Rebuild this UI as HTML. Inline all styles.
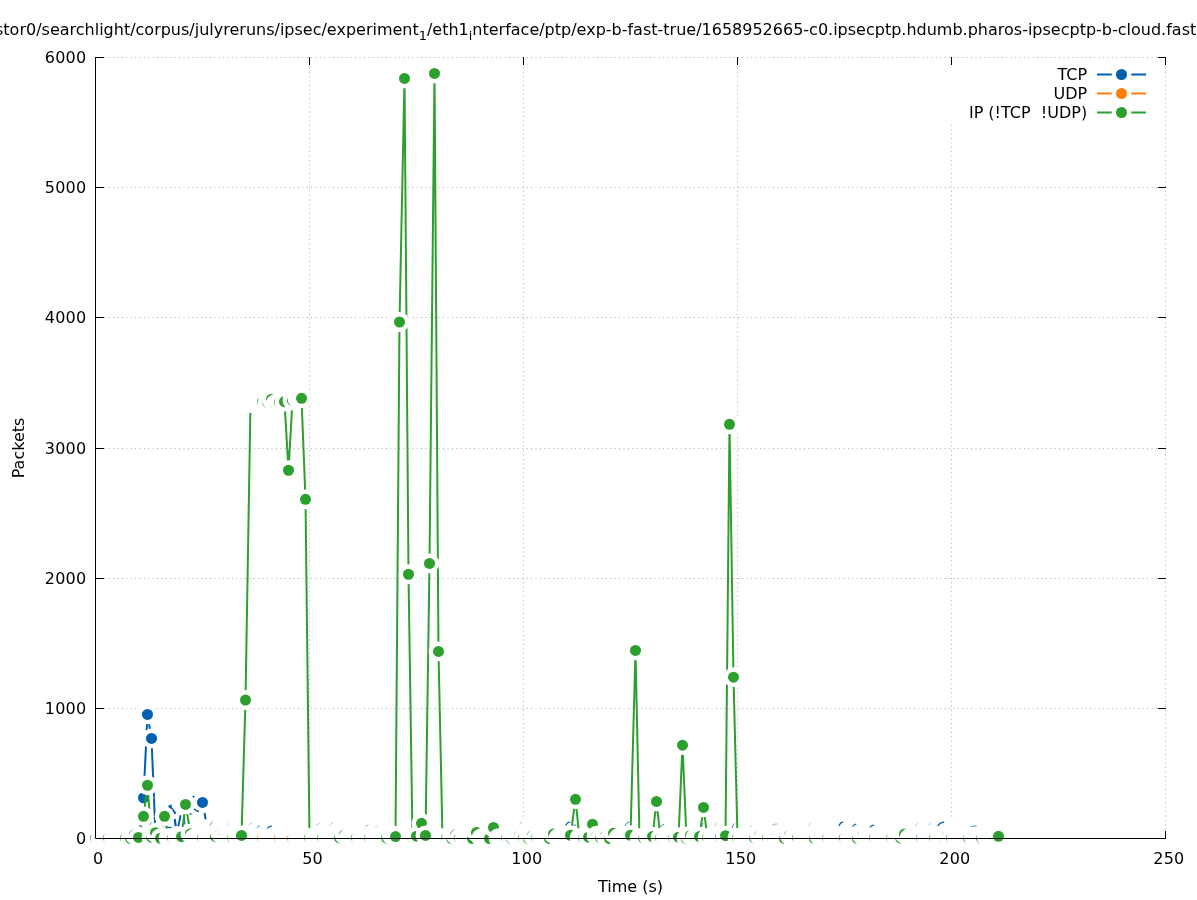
<!DOCTYPE html>
<html><head><meta charset="utf-8"><title>Packets over time</title>
<style>
html,body{margin:0;padding:0;background:#fff;}
body{width:1197px;height:900px;overflow:hidden;}
svg{display:block;}
text{font-family:"DejaVu Sans","Liberation Sans",sans-serif;font-size:16px;fill:#000;}
.sub{font-size:12.8px;}
.tk{letter-spacing:0.2px;}
.grid{stroke:#acacac;stroke-width:1;stroke-dasharray:1 3.4;fill:none;}
.ax{stroke:#000;stroke-width:1;fill:none;}
</style></head><body>
<svg width="1197" height="900" viewBox="0 0 1197 900">
<rect x="0" y="0" width="1197" height="900" fill="#ffffff"/>

<g class="grid">
<path d="M309.5 838.5 V57.5"/>
<path d="M523.5 838.5 V57.5"/>
<path d="M737.5 838.5 V57.5"/>
<path d="M951.5 838.5 V57.5"/>
<path d="M1165.5 838.5 V57.5"/>
<path d="M95.5 708.5 H1165.5"/>
<path d="M95.5 578.5 H1165.5"/>
<path d="M95.5 448.5 H1165.5"/>
<path d="M95.5 317.5 H1165.5"/>
<path d="M95.5 187.5 H1165.5"/>
<path d="M95.5 57.5 H1165.5"/>
</g>
<g class="ax">
<path d="M95.5 839V831M95.5 57V65"/>
<path d="M309.5 839V831M309.5 57V65"/>
<path d="M523.5 839V831M523.5 57V65"/>
<path d="M737.5 839V831M737.5 57V65"/>
<path d="M951.5 839V831M951.5 57V65"/>
<path d="M1165.5 839V831M1165.5 57V65"/>
<path d="M95 838.5H104M1166 838.5H1158"/>
<path d="M95 708.5H104M1166 708.5H1158"/>
<path d="M95 578.5H104M1166 578.5H1158"/>
<path d="M95 448.5H104M1166 448.5H1158"/>
<path d="M95 317.5H104M1166 317.5H1158"/>
<path d="M95 187.5H104M1166 187.5H1158"/>
<path d="M95 57.5H104M1166 57.5H1158"/>
</g>
<rect x="945" y="65" width="218" height="59.5" fill="#fff"/>
<g id="tcp">
<path d="M138.5 835.9L143.5 797.76L147.5 714.45L151.5 738.4L155.5 835.25" fill="none" stroke="#0060ad" stroke-width="2" stroke-linejoin="round"/>
<path d="M198.5 805.31L202.5 802.44L207.5 829" fill="none" stroke="#0060ad" stroke-width="2" stroke-linejoin="round"/>
<circle cx="138.5" cy="835.9" r="9.9" fill="#fff"/><circle cx="138.5" cy="835.9" r="5.5" fill="#0060ad"/>
<circle cx="143.5" cy="797.76" r="9.9" fill="#fff"/><circle cx="143.5" cy="797.76" r="5.5" fill="#0060ad"/>
<circle cx="147.5" cy="714.45" r="9.9" fill="#fff"/><circle cx="147.5" cy="714.45" r="5.5" fill="#0060ad"/>
<circle cx="151.5" cy="738.4" r="9.9" fill="#fff"/><circle cx="151.5" cy="738.4" r="5.5" fill="#0060ad"/>
<circle cx="155.5" cy="835.25" r="9.9" fill="#fff"/><circle cx="155.5" cy="835.25" r="5.5" fill="#0060ad"/>
<circle cx="198.5" cy="805.31" r="9.9" fill="#fff"/><circle cx="198.5" cy="805.31" r="5.5" fill="#0060ad"/>
<circle cx="202.5" cy="802.44" r="9.9" fill="#fff"/><circle cx="202.5" cy="802.44" r="5.5" fill="#0060ad"/>
<circle cx="207.5" cy="829.0" r="9.9" fill="#fff"/><circle cx="211.5" cy="829.5" r="9.9" fill="#fff"/><circle cx="215.5" cy="829.5" r="9.9" fill="#fff"/><circle cx="220.5" cy="829.5" r="9.9" fill="#fff"/><circle cx="224.5" cy="829.5" r="9.9" fill="#fff"/><circle cx="228.5" cy="829.5" r="9.9" fill="#fff"/><circle cx="232.5" cy="829.5" r="9.9" fill="#fff"/><circle cx="237.5" cy="829.5" r="9.9" fill="#fff"/><circle cx="241.5" cy="829.5" r="9.9" fill="#fff"/><circle cx="245.5" cy="829.5" r="9.9" fill="#fff"/><circle cx="250.5" cy="829.5" r="9.9" fill="#fff"/><circle cx="254.5" cy="829.5" r="9.9" fill="#fff"/><circle cx="258.5" cy="829.5" r="9.9" fill="#fff"/><circle cx="262.5" cy="829.5" r="9.9" fill="#fff"/><circle cx="267.5" cy="829.5" r="9.9" fill="#fff"/><circle cx="271.5" cy="829.5" r="9.9" fill="#fff"/><circle cx="275.5" cy="829.5" r="9.9" fill="#fff"/><circle cx="279.5" cy="829.5" r="9.9" fill="#fff"/><circle cx="284.5" cy="829.5" r="9.9" fill="#fff"/><circle cx="288.5" cy="829.5" r="9.9" fill="#fff"/><circle cx="292.5" cy="829.5" r="9.9" fill="#fff"/><circle cx="297.5" cy="829.5" r="9.9" fill="#fff"/><circle cx="301.5" cy="829.5" r="9.9" fill="#fff"/><circle cx="305.5" cy="829.5" r="9.9" fill="#fff"/><circle cx="309.5" cy="829.5" r="9.9" fill="#fff"/><circle cx="314.5" cy="829.5" r="9.9" fill="#fff"/><circle cx="318.5" cy="829.5" r="9.9" fill="#fff"/><circle cx="322.5" cy="829.5" r="9.9" fill="#fff"/><circle cx="327.5" cy="829.5" r="9.9" fill="#fff"/><circle cx="331.5" cy="829.5" r="9.9" fill="#fff"/><circle cx="335.5" cy="829.5" r="9.9" fill="#fff"/><circle cx="339.5" cy="829.5" r="9.9" fill="#fff"/><circle cx="344.5" cy="829.5" r="9.9" fill="#fff"/><circle cx="348.5" cy="829.5" r="9.9" fill="#fff"/><circle cx="352.5" cy="829.5" r="9.9" fill="#fff"/><circle cx="356.5" cy="829.5" r="9.9" fill="#fff"/><circle cx="361.5" cy="829.5" r="9.9" fill="#fff"/><circle cx="365.5" cy="829.5" r="9.9" fill="#fff"/><circle cx="369.5" cy="829.5" r="9.9" fill="#fff"/><circle cx="374.5" cy="829.5" r="9.9" fill="#fff"/><circle cx="378.5" cy="829.5" r="9.9" fill="#fff"/><circle cx="382.5" cy="829.5" r="9.9" fill="#fff"/><circle cx="386.5" cy="829.5" r="9.9" fill="#fff"/><circle cx="391.5" cy="829.5" r="9.9" fill="#fff"/><circle cx="395.5" cy="829.5" r="9.9" fill="#fff"/><circle cx="399.5" cy="829.5" r="9.9" fill="#fff"/><circle cx="404.5" cy="829.5" r="9.9" fill="#fff"/><circle cx="408.5" cy="829.5" r="9.9" fill="#fff"/><circle cx="412.5" cy="829.5" r="9.9" fill="#fff"/><circle cx="416.5" cy="829.5" r="9.9" fill="#fff"/><circle cx="421.5" cy="829.5" r="9.9" fill="#fff"/><circle cx="425.5" cy="829.5" r="9.9" fill="#fff"/><circle cx="429.5" cy="829.5" r="9.9" fill="#fff"/><circle cx="434.5" cy="829.5" r="9.9" fill="#fff"/><circle cx="438.5" cy="829.5" r="9.9" fill="#fff"/><circle cx="442.5" cy="829.5" r="9.9" fill="#fff"/><circle cx="446.5" cy="829.5" r="9.9" fill="#fff"/><circle cx="451.5" cy="829.5" r="9.9" fill="#fff"/><circle cx="455.5" cy="829.5" r="9.9" fill="#fff"/><circle cx="459.5" cy="829.5" r="9.9" fill="#fff"/><circle cx="464.5" cy="829.5" r="9.9" fill="#fff"/><circle cx="468.5" cy="829.5" r="9.9" fill="#fff"/><circle cx="472.5" cy="829.5" r="9.9" fill="#fff"/><circle cx="476.5" cy="829.5" r="9.9" fill="#fff"/><circle cx="481.5" cy="829.5" r="9.9" fill="#fff"/><circle cx="485.5" cy="829.5" r="9.9" fill="#fff"/><circle cx="489.5" cy="829.5" r="9.9" fill="#fff"/><circle cx="493.5" cy="829.5" r="9.9" fill="#fff"/><circle cx="498.5" cy="829.5" r="9.9" fill="#fff"/><circle cx="502.5" cy="829.5" r="9.9" fill="#fff"/><circle cx="506.5" cy="829.5" r="9.9" fill="#fff"/><circle cx="511.5" cy="829.5" r="9.9" fill="#fff"/><circle cx="515.5" cy="829.5" r="9.9" fill="#fff"/><circle cx="519.5" cy="829.5" r="9.9" fill="#fff"/><circle cx="523.5" cy="829.5" r="9.9" fill="#fff"/><circle cx="528.5" cy="829.5" r="9.9" fill="#fff"/><circle cx="532.5" cy="829.5" r="9.9" fill="#fff"/><circle cx="536.5" cy="829.5" r="9.9" fill="#fff"/><circle cx="541.5" cy="829.5" r="9.9" fill="#fff"/><circle cx="545.5" cy="829.5" r="9.9" fill="#fff"/><circle cx="549.5" cy="829.5" r="9.9" fill="#fff"/><circle cx="553.5" cy="829.5" r="9.9" fill="#fff"/><circle cx="558.5" cy="829.5" r="9.9" fill="#fff"/><circle cx="562.5" cy="829.5" r="9.9" fill="#fff"/><circle cx="566.5" cy="829.5" r="9.9" fill="#fff"/><circle cx="570.5" cy="829.5" r="9.9" fill="#fff"/><circle cx="575.5" cy="829.5" r="9.9" fill="#fff"/><circle cx="579.5" cy="829.5" r="9.9" fill="#fff"/><circle cx="583.5" cy="829.5" r="9.9" fill="#fff"/><circle cx="588.5" cy="829.5" r="9.9" fill="#fff"/><circle cx="592.5" cy="829.5" r="9.9" fill="#fff"/><circle cx="596.5" cy="829.5" r="9.9" fill="#fff"/><circle cx="600.5" cy="829.5" r="9.9" fill="#fff"/><circle cx="605.5" cy="829.5" r="9.9" fill="#fff"/><circle cx="609.5" cy="829.5" r="9.9" fill="#fff"/><circle cx="613.5" cy="829.5" r="9.9" fill="#fff"/><circle cx="618.5" cy="829.5" r="9.9" fill="#fff"/><circle cx="622.5" cy="829.5" r="9.9" fill="#fff"/><circle cx="626.5" cy="829.5" r="9.9" fill="#fff"/><circle cx="630.5" cy="829.5" r="9.9" fill="#fff"/><circle cx="635.5" cy="829.5" r="9.9" fill="#fff"/><circle cx="639.5" cy="829.5" r="9.9" fill="#fff"/><circle cx="643.5" cy="829.5" r="9.9" fill="#fff"/><circle cx="648.5" cy="829.5" r="9.9" fill="#fff"/><circle cx="652.5" cy="829.5" r="9.9" fill="#fff"/><circle cx="656.5" cy="829.5" r="9.9" fill="#fff"/><circle cx="660.5" cy="829.5" r="9.9" fill="#fff"/><circle cx="665.5" cy="829.5" r="9.9" fill="#fff"/><circle cx="669.5" cy="829.5" r="9.9" fill="#fff"/><circle cx="673.5" cy="829.5" r="9.9" fill="#fff"/><circle cx="678.5" cy="829.5" r="9.9" fill="#fff"/><circle cx="682.5" cy="829.5" r="9.9" fill="#fff"/><circle cx="686.5" cy="829.5" r="9.9" fill="#fff"/><circle cx="690.5" cy="829.5" r="9.9" fill="#fff"/><circle cx="695.5" cy="829.5" r="9.9" fill="#fff"/><circle cx="699.5" cy="829.5" r="9.9" fill="#fff"/><circle cx="703.5" cy="829.5" r="9.9" fill="#fff"/><circle cx="707.5" cy="829.5" r="9.9" fill="#fff"/><circle cx="712.5" cy="829.5" r="9.9" fill="#fff"/><circle cx="716.5" cy="829.5" r="9.9" fill="#fff"/><circle cx="720.5" cy="829.5" r="9.9" fill="#fff"/><circle cx="725.5" cy="829.5" r="9.9" fill="#fff"/><circle cx="729.5" cy="829.5" r="9.9" fill="#fff"/><circle cx="733.5" cy="829.5" r="9.9" fill="#fff"/><circle cx="737.5" cy="829.5" r="9.9" fill="#fff"/><circle cx="742.5" cy="829.5" r="9.9" fill="#fff"/><circle cx="746.5" cy="829.5" r="9.9" fill="#fff"/><circle cx="750.5" cy="829.5" r="9.9" fill="#fff"/><circle cx="754.5" cy="829.5" r="9.9" fill="#fff"/><circle cx="759.5" cy="829.5" r="9.9" fill="#fff"/><circle cx="763.5" cy="829.5" r="9.9" fill="#fff"/><circle cx="767.5" cy="829.5" r="9.9" fill="#fff"/><circle cx="772.5" cy="829.5" r="9.9" fill="#fff"/><circle cx="776.5" cy="829.5" r="9.9" fill="#fff"/><circle cx="780.5" cy="829.5" r="9.9" fill="#fff"/><circle cx="784.5" cy="829.5" r="9.9" fill="#fff"/><circle cx="789.5" cy="829.5" r="9.9" fill="#fff"/><circle cx="793.5" cy="829.5" r="9.9" fill="#fff"/><circle cx="797.5" cy="829.5" r="9.9" fill="#fff"/><circle cx="802.5" cy="829.5" r="9.9" fill="#fff"/><circle cx="806.5" cy="829.5" r="9.9" fill="#fff"/><circle cx="810.5" cy="829.5" r="9.9" fill="#fff"/><circle cx="814.5" cy="829.5" r="9.9" fill="#fff"/><circle cx="819.5" cy="829.5" r="9.9" fill="#fff"/><circle cx="823.5" cy="829.5" r="9.9" fill="#fff"/><circle cx="827.5" cy="829.5" r="9.9" fill="#fff"/><circle cx="832.5" cy="829.5" r="9.9" fill="#fff"/><circle cx="836.5" cy="829.5" r="9.9" fill="#fff"/><circle cx="840.5" cy="829.5" r="9.9" fill="#fff"/><circle cx="844.5" cy="829.5" r="9.9" fill="#fff"/><circle cx="849.5" cy="829.5" r="9.9" fill="#fff"/><circle cx="853.5" cy="829.5" r="9.9" fill="#fff"/><circle cx="857.5" cy="829.5" r="9.9" fill="#fff"/><circle cx="862.5" cy="829.5" r="9.9" fill="#fff"/><circle cx="866.5" cy="829.5" r="9.9" fill="#fff"/><circle cx="870.5" cy="829.5" r="9.9" fill="#fff"/><circle cx="874.5" cy="829.5" r="9.9" fill="#fff"/><circle cx="879.5" cy="829.5" r="9.9" fill="#fff"/><circle cx="883.5" cy="829.5" r="9.9" fill="#fff"/><circle cx="887.5" cy="829.5" r="9.9" fill="#fff"/><circle cx="891.5" cy="829.5" r="9.9" fill="#fff"/><circle cx="896.5" cy="829.5" r="9.9" fill="#fff"/><circle cx="900.5" cy="829.5" r="9.9" fill="#fff"/><circle cx="904.5" cy="829.5" r="9.9" fill="#fff"/><circle cx="909.5" cy="829.5" r="9.9" fill="#fff"/><circle cx="913.5" cy="829.5" r="9.9" fill="#fff"/><circle cx="917.5" cy="829.5" r="9.9" fill="#fff"/><circle cx="921.5" cy="829.5" r="9.9" fill="#fff"/><circle cx="926.5" cy="829.5" r="9.9" fill="#fff"/><circle cx="930.5" cy="829.5" r="9.9" fill="#fff"/><circle cx="934.5" cy="829.5" r="9.9" fill="#fff"/><circle cx="939.5" cy="829.5" r="9.9" fill="#fff"/><circle cx="943.5" cy="829.5" r="9.9" fill="#fff"/><circle cx="947.5" cy="829.5" r="9.9" fill="#fff"/><circle cx="951.5" cy="829.5" r="9.9" fill="#fff"/><circle cx="956.5" cy="829.5" r="9.9" fill="#fff"/><circle cx="960.5" cy="829.5" r="9.9" fill="#fff"/><circle cx="964.5" cy="829.5" r="9.9" fill="#fff"/><circle cx="968.5" cy="829.5" r="9.9" fill="#fff"/><circle cx="973.5" cy="829.5" r="9.9" fill="#fff"/><circle cx="977.5" cy="829.5" r="9.9" fill="#fff"/><circle cx="981.5" cy="829.5" r="9.9" fill="#fff"/><circle cx="986.5" cy="829.5" r="9.9" fill="#fff"/><circle cx="990.5" cy="829.5" r="9.9" fill="#fff"/><circle cx="994.5" cy="829.5" r="9.9" fill="#fff"/>
<polygon points="167.7,806.2 171.4,804.2 171.9,807.2 176.5,813.1 174.7,814.4 170.6,809.0" fill="#0060ad" fill-opacity="1.0"/>
<path d="M174.7 819 L175.7 826.2" fill="none" stroke="#0060ad" stroke-width="2.2" stroke-opacity="1.0"/>
<path d="M178.3 826.3 L180.6 815.2" fill="none" stroke="#0060ad" stroke-width="1.9" stroke-opacity="1.0"/>
<path d="M184.0 815.5 L184.9 824.5" fill="none" stroke="#0060ad" stroke-width="1.2" stroke-opacity="1.0"/>
<path d="M188.0 817.5 L189.6 824.5" fill="none" stroke="#0060ad" stroke-width="1.0" stroke-opacity="0.6"/>
<polygon points="189.0,814.5 190.6,812.8 192.6,814.5" fill="#0060ad" fill-opacity="1.0"/>
<polygon points="191.8,796.0 194.9,796.0 193.7,798.0" fill="#0060ad" fill-opacity="1.0"/>
<path d="M194 809 Q196 811.2 199 811.5" fill="none" stroke="#0060ad" stroke-width="1.3"/>
<path d="M210.2 825.1 Q210.72 822.29 212.3 821.8" fill="none" stroke="#0060ad" stroke-width="0.9" stroke-opacity="0.65" stroke-linecap="round"/>
<path d="M166.6 827.4 L171.5 827.8" fill="none" stroke="#0060ad" stroke-width="1.7" stroke-opacity="1.0"/>
<path d="M139.2 825.3 L141.4 827.1" fill="none" stroke="#0060ad" stroke-width="1.3" stroke-opacity="1.0"/>
<path d="M227.3 825.1 Q227.70 823.57 228.9 823.3" fill="none" stroke="#0060ad" stroke-width="0.56" stroke-opacity="0.4" stroke-linecap="round"/>
<path d="M249.1 825.1 Q249.72 822.98 251.6 822.6" fill="none" stroke="#0060ad" stroke-width="0.64" stroke-opacity="0.5" stroke-linecap="round"/>
<path d="M257.1 828.1 Q257.73 825.98 259.6 825.6" fill="none" stroke="#0060ad" stroke-width="0.8" stroke-opacity="0.8" stroke-linecap="round"/>
<path d="M267.2 828.6 Q268.32 826.48 271.7 826.1" fill="none" stroke="#0060ad" stroke-width="1.2" stroke-opacity="1.0" stroke-linecap="round"/>
<path d="M316.8 825.6 Q317.43 823.48 319.3 823.1" fill="none" stroke="#0060ad" stroke-width="0.64" stroke-opacity="0.6" stroke-linecap="round"/>
<path d="M330 825.1 Q330.62 822.98 332.5 822.6" fill="none" stroke="#0060ad" stroke-width="0.64" stroke-opacity="0.45" stroke-linecap="round"/>
<path d="M365.6 826.9 Q366.23 825.37 368.1 825.1" fill="none" stroke="#0060ad" stroke-width="0.8" stroke-opacity="0.6" stroke-linecap="round"/>
<path d="M375.1 827 Q375.60 826.15 377.1 826" fill="none" stroke="#0060ad" stroke-width="0.64" stroke-opacity="0.4" stroke-linecap="round"/>
<path d="M519.7 823.9 Q520.20 822.37 521.7 822.1" fill="none" stroke="#0060ad" stroke-width="0.72" stroke-opacity="0.5" stroke-linecap="round"/>
<path d="M565.9 825.1 Q566.83 822.55 569.6 822.1" fill="none" stroke="#0060ad" stroke-width="1.28" stroke-opacity="1.0" stroke-linecap="round"/>
<path d="M572.6 825.9 Q573.35 825.05 575.6 824.9" fill="none" stroke="#0060ad" stroke-width="0.96" stroke-opacity="0.9" stroke-linecap="round"/>
<path d="M609.2 822.6 Q609.58 821.33 610.7 821.1" fill="none" stroke="#0060ad" stroke-width="0.56" stroke-opacity="0.3" stroke-linecap="round"/>
<path d="M625.2 825.6 Q626.08 822.62 628.7 822.1" fill="none" stroke="#0060ad" stroke-width="0.96" stroke-opacity="0.85" stroke-linecap="round"/>
<path d="M655 826.6 Q655.38 825.75 656.5 825.6" fill="none" stroke="#0060ad" stroke-width="0.64" stroke-opacity="0.4" stroke-linecap="round"/>
<path d="M661 826.6 Q661.75 824.48 664 824.1" fill="none" stroke="#0060ad" stroke-width="0.88" stroke-opacity="0.8" stroke-linecap="round"/>
<path d="M701.6 826.6 Q701.98 823.62 703.1 823.1" fill="none" stroke="#0060ad" stroke-width="0.88" stroke-opacity="0.8" stroke-linecap="round"/>
<path d="M715.2 825.6 Q715.58 823.64 716.7 823.3" fill="none" stroke="#0060ad" stroke-width="0.64" stroke-opacity="0.5" stroke-linecap="round"/>
<path d="M732.2 827.6 Q732.70 824.20 734.2 823.6" fill="none" stroke="#0060ad" stroke-width="0.88" stroke-opacity="0.85" stroke-linecap="round"/>
<path d="M750.3 826.6 Q750.67 825.50 751.8 825.3" fill="none" stroke="#0060ad" stroke-width="0.64" stroke-opacity="0.45" stroke-linecap="round"/>
<path d="M772.5 825.1 Q773.62 824.08 777 823.9" fill="none" stroke="#0060ad" stroke-width="0.8" stroke-opacity="0.6" stroke-linecap="round"/>
<path d="M809.1 825.6 Q809.48 823.48 810.6 823.1" fill="none" stroke="#0060ad" stroke-width="0.64" stroke-opacity="0.5" stroke-linecap="round"/>
<path d="M839.2 825.6 Q840.08 822.62 842.7 822.1" fill="none" stroke="#0060ad" stroke-width="1.28" stroke-opacity="1.0" stroke-linecap="round"/>
<path d="M852.7 826.6 Q853.53 824.48 856 824.1" fill="none" stroke="#0060ad" stroke-width="1.12" stroke-opacity="0.9" stroke-linecap="round"/>
<path d="M870.3 826.9 Q871.17 825.37 873.8 825.1" fill="none" stroke="#0060ad" stroke-width="1.2" stroke-opacity="1.0" stroke-linecap="round"/>
<path d="M916 825.6 Q916.45 823.48 917.8 823.1" fill="none" stroke="#0060ad" stroke-width="0.64" stroke-opacity="0.5" stroke-linecap="round"/>
<path d="M929.1 825.3 Q929.48 823.43 930.6 823.1" fill="none" stroke="#0060ad" stroke-width="0.64" stroke-opacity="0.5" stroke-linecap="round"/>
<path d="M938.1 825.6 Q939.48 822.62 943.6 822.1" fill="none" stroke="#0060ad" stroke-width="1.36" stroke-opacity="1.0" stroke-linecap="round"/>
<path d="M970.7 826.9 Q972.08 826.05 976.2 825.9" fill="none" stroke="#0060ad" stroke-width="0.96" stroke-opacity="0.8" stroke-linecap="round"/>
</g>
<g id="udp"><path d="M95.5 838.37L100.5 838.37L104.5 838.37L108.5 838.37L113.5 838.37L117.5 838.37L121.5 838.37L125.5 838.37L130.5 838.37L134.5 838.37L138.5 838.37L143.5 838.37L147.5 838.37L151.5 838.37L155.5 838.37L160.5 838.37L164.5 838.37L168.5 838.37L172.5 838.37L177.5 838.37L181.5 838.37L185.5 838.37L190.5 838.37L194.5 838.37L198.5 838.37L202.5 838.37L207.5 838.37L211.5 838.37L215.5 838.37L220.5 838.37L224.5 838.37L228.5 838.37L232.5 838.37L237.5 838.37L241.5 838.37L245.5 838.37L250.5 838.37L254.5 838.37L258.5 838.37L262.5 838.37L267.5 838.37L271.5 838.37L275.5 838.37L279.5 838.37L284.5 838.37L288.5 838.37L292.5 838.37L297.5 838.37L301.5 838.37L305.5 838.37L309.5 838.37L314.5 838.37L318.5 838.37L322.5 838.37L327.5 838.37L331.5 838.37L335.5 838.37L339.5 838.37L344.5 838.37L348.5 838.37L352.5 838.37L356.5 838.37L361.5 838.37L365.5 838.37L369.5 838.37L374.5 838.37L378.5 838.37L382.5 838.37L386.5 838.37L391.5 838.37L395.5 838.37L399.5 838.37L404.5 838.37L408.5 838.37L412.5 838.37L416.5 838.37L421.5 838.37L425.5 838.37L429.5 838.37L434.5 838.37L438.5 838.37L442.5 838.37L446.5 838.37L451.5 838.37L455.5 838.37L459.5 838.37L464.5 838.37L468.5 838.37L472.5 838.37L476.5 838.37L481.5 838.37L485.5 838.37L489.5 838.37L493.5 838.37L498.5 838.37L502.5 838.37L506.5 838.37L511.5 838.37L515.5 838.37L519.5 838.37L523.5 838.37L528.5 838.37L532.5 838.37L536.5 838.37L541.5 838.37L545.5 838.37L549.5 838.37L553.5 838.37L558.5 838.37L562.5 838.37L566.5 838.37L570.5 838.37L575.5 838.37L579.5 838.37L583.5 838.37L588.5 838.37L592.5 838.37L596.5 838.37L600.5 838.37L605.5 838.37L609.5 838.37L613.5 838.37L618.5 838.37L622.5 838.37L626.5 838.37L630.5 838.37L635.5 838.37L639.5 838.37L643.5 838.37L648.5 838.37L652.5 838.37L656.5 838.37L660.5 838.37L665.5 838.37L669.5 838.37L673.5 838.37L678.5 838.37L682.5 838.37L686.5 838.37L690.5 838.37L695.5 838.37L699.5 838.37L703.5 838.37L707.5 838.37L712.5 838.37L716.5 838.37L720.5 838.37L725.5 838.37L729.5 838.37L733.5 838.37L737.5 838.37L742.5 838.37L746.5 838.37L750.5 838.37L754.5 838.37L759.5 838.37L763.5 838.37L767.5 838.37L772.5 838.37L776.5 838.37L780.5 838.37L784.5 838.37L789.5 838.37L793.5 838.37L797.5 838.37L802.5 838.37L806.5 838.37L810.5 838.37L814.5 838.37L819.5 838.37L823.5 838.37L827.5 838.37L832.5 838.37L836.5 838.37L840.5 838.37L844.5 838.37L849.5 838.37L853.5 838.37L857.5 838.37L862.5 838.37L866.5 838.37L870.5 838.37L874.5 838.37L879.5 838.37L883.5 838.37L887.5 838.37L891.5 838.37L896.5 838.37L900.5 838.37L904.5 838.37L909.5 838.37L913.5 838.37L917.5 838.37L921.5 838.37L926.5 838.37L930.5 838.37L934.5 838.37L939.5 838.37L943.5 838.37L947.5 838.37L951.5 838.37L956.5 838.37L960.5 838.37L964.5 838.37L968.5 838.37L973.5 838.37L977.5 838.37L981.5 838.37L986.5 838.37L990.5 838.37L994.5 838.37L998.5 838.37" fill="none" stroke="#ff7f0e" stroke-width="2" stroke-linejoin="round"/><circle cx="95.5" cy="838.37" r="9.9" fill="#fff"/><circle cx="95.5" cy="838.37" r="5.5" fill="#ff7f0e"/>
<circle cx="100.5" cy="838.37" r="9.9" fill="#fff"/><circle cx="100.5" cy="838.37" r="5.5" fill="#ff7f0e"/>
<circle cx="104.5" cy="838.37" r="9.9" fill="#fff"/><circle cx="104.5" cy="838.37" r="5.5" fill="#ff7f0e"/>
<circle cx="108.5" cy="838.37" r="9.9" fill="#fff"/><circle cx="108.5" cy="838.37" r="5.5" fill="#ff7f0e"/>
<circle cx="113.5" cy="838.37" r="9.9" fill="#fff"/><circle cx="113.5" cy="838.37" r="5.5" fill="#ff7f0e"/>
<circle cx="117.5" cy="838.37" r="9.9" fill="#fff"/><circle cx="117.5" cy="838.37" r="5.5" fill="#ff7f0e"/>
<circle cx="121.5" cy="838.37" r="9.9" fill="#fff"/><circle cx="121.5" cy="838.37" r="5.5" fill="#ff7f0e"/>
<circle cx="125.5" cy="838.37" r="9.9" fill="#fff"/><circle cx="125.5" cy="838.37" r="5.5" fill="#ff7f0e"/>
<circle cx="130.5" cy="838.37" r="9.9" fill="#fff"/><circle cx="130.5" cy="838.37" r="5.5" fill="#ff7f0e"/>
<circle cx="134.5" cy="838.37" r="9.9" fill="#fff"/><circle cx="134.5" cy="838.37" r="5.5" fill="#ff7f0e"/>
<circle cx="138.5" cy="838.37" r="9.9" fill="#fff"/><circle cx="138.5" cy="838.37" r="5.5" fill="#ff7f0e"/>
<circle cx="143.5" cy="838.37" r="9.9" fill="#fff"/><circle cx="143.5" cy="838.37" r="5.5" fill="#ff7f0e"/>
<circle cx="147.5" cy="838.37" r="9.9" fill="#fff"/><circle cx="147.5" cy="838.37" r="5.5" fill="#ff7f0e"/>
<circle cx="151.5" cy="838.37" r="9.9" fill="#fff"/><circle cx="151.5" cy="838.37" r="5.5" fill="#ff7f0e"/>
<circle cx="155.5" cy="838.37" r="9.9" fill="#fff"/><circle cx="155.5" cy="838.37" r="5.5" fill="#ff7f0e"/>
<circle cx="160.5" cy="838.37" r="9.9" fill="#fff"/><circle cx="160.5" cy="838.37" r="5.5" fill="#ff7f0e"/>
<circle cx="164.5" cy="838.37" r="9.9" fill="#fff"/><circle cx="164.5" cy="838.37" r="5.5" fill="#ff7f0e"/>
<circle cx="168.5" cy="838.37" r="9.9" fill="#fff"/><circle cx="168.5" cy="838.37" r="5.5" fill="#ff7f0e"/>
<circle cx="172.5" cy="838.37" r="9.9" fill="#fff"/><circle cx="172.5" cy="838.37" r="5.5" fill="#ff7f0e"/>
<circle cx="177.5" cy="838.37" r="9.9" fill="#fff"/><circle cx="177.5" cy="838.37" r="5.5" fill="#ff7f0e"/>
<circle cx="181.5" cy="838.37" r="9.9" fill="#fff"/><circle cx="181.5" cy="838.37" r="5.5" fill="#ff7f0e"/>
<circle cx="185.5" cy="838.37" r="9.9" fill="#fff"/><circle cx="185.5" cy="838.37" r="5.5" fill="#ff7f0e"/>
<circle cx="190.5" cy="838.37" r="9.9" fill="#fff"/><circle cx="190.5" cy="838.37" r="5.5" fill="#ff7f0e"/>
<circle cx="194.5" cy="838.37" r="9.9" fill="#fff"/><circle cx="194.5" cy="838.37" r="5.5" fill="#ff7f0e"/>
<circle cx="198.5" cy="838.37" r="9.9" fill="#fff"/><circle cx="198.5" cy="838.37" r="5.5" fill="#ff7f0e"/>
<circle cx="202.5" cy="838.37" r="9.9" fill="#fff"/><circle cx="202.5" cy="838.37" r="5.5" fill="#ff7f0e"/>
<circle cx="207.5" cy="838.37" r="9.9" fill="#fff"/><circle cx="207.5" cy="838.37" r="5.5" fill="#ff7f0e"/>
<circle cx="211.5" cy="838.37" r="9.9" fill="#fff"/><circle cx="211.5" cy="838.37" r="5.5" fill="#ff7f0e"/>
<circle cx="215.5" cy="838.37" r="9.9" fill="#fff"/><circle cx="215.5" cy="838.37" r="5.5" fill="#ff7f0e"/>
<circle cx="220.5" cy="838.37" r="9.9" fill="#fff"/><circle cx="220.5" cy="838.37" r="5.5" fill="#ff7f0e"/>
<circle cx="224.5" cy="838.37" r="9.9" fill="#fff"/><circle cx="224.5" cy="838.37" r="5.5" fill="#ff7f0e"/>
<circle cx="228.5" cy="838.37" r="9.9" fill="#fff"/><circle cx="228.5" cy="838.37" r="5.5" fill="#ff7f0e"/>
<circle cx="232.5" cy="838.37" r="9.9" fill="#fff"/><circle cx="232.5" cy="838.37" r="5.5" fill="#ff7f0e"/>
<circle cx="237.5" cy="838.37" r="9.9" fill="#fff"/><circle cx="237.5" cy="838.37" r="5.5" fill="#ff7f0e"/>
<circle cx="241.5" cy="838.37" r="9.9" fill="#fff"/><circle cx="241.5" cy="838.37" r="5.5" fill="#ff7f0e"/>
<circle cx="245.5" cy="838.37" r="9.9" fill="#fff"/><circle cx="245.5" cy="838.37" r="5.5" fill="#ff7f0e"/>
<circle cx="250.5" cy="838.37" r="9.9" fill="#fff"/><circle cx="250.5" cy="838.37" r="5.5" fill="#ff7f0e"/>
<circle cx="254.5" cy="838.37" r="9.9" fill="#fff"/><circle cx="254.5" cy="838.37" r="5.5" fill="#ff7f0e"/>
<circle cx="258.5" cy="838.37" r="9.9" fill="#fff"/><circle cx="258.5" cy="838.37" r="5.5" fill="#ff7f0e"/>
<circle cx="262.5" cy="838.37" r="9.9" fill="#fff"/><circle cx="262.5" cy="838.37" r="5.5" fill="#ff7f0e"/>
<circle cx="267.5" cy="838.37" r="9.9" fill="#fff"/><circle cx="267.5" cy="838.37" r="5.5" fill="#ff7f0e"/>
<circle cx="271.5" cy="838.37" r="9.9" fill="#fff"/><circle cx="271.5" cy="838.37" r="5.5" fill="#ff7f0e"/>
<circle cx="275.5" cy="838.37" r="9.9" fill="#fff"/><circle cx="275.5" cy="838.37" r="5.5" fill="#ff7f0e"/>
<circle cx="279.5" cy="838.37" r="9.9" fill="#fff"/><circle cx="279.5" cy="838.37" r="5.5" fill="#ff7f0e"/>
<circle cx="284.5" cy="838.37" r="9.9" fill="#fff"/><circle cx="284.5" cy="838.37" r="5.5" fill="#ff7f0e"/>
<circle cx="288.5" cy="838.37" r="9.9" fill="#fff"/><circle cx="288.5" cy="838.37" r="5.5" fill="#ff7f0e"/>
<circle cx="292.5" cy="838.37" r="9.9" fill="#fff"/><circle cx="292.5" cy="838.37" r="5.5" fill="#ff7f0e"/>
<circle cx="297.5" cy="838.37" r="9.9" fill="#fff"/><circle cx="297.5" cy="838.37" r="5.5" fill="#ff7f0e"/>
<circle cx="301.5" cy="838.37" r="9.9" fill="#fff"/><circle cx="301.5" cy="838.37" r="5.5" fill="#ff7f0e"/>
<circle cx="305.5" cy="838.37" r="9.9" fill="#fff"/><circle cx="305.5" cy="838.37" r="5.5" fill="#ff7f0e"/>
<circle cx="309.5" cy="838.37" r="9.9" fill="#fff"/><circle cx="309.5" cy="838.37" r="5.5" fill="#ff7f0e"/>
<circle cx="314.5" cy="838.37" r="9.9" fill="#fff"/><circle cx="314.5" cy="838.37" r="5.5" fill="#ff7f0e"/>
<circle cx="318.5" cy="838.37" r="9.9" fill="#fff"/><circle cx="318.5" cy="838.37" r="5.5" fill="#ff7f0e"/>
<circle cx="322.5" cy="838.37" r="9.9" fill="#fff"/><circle cx="322.5" cy="838.37" r="5.5" fill="#ff7f0e"/>
<circle cx="327.5" cy="838.37" r="9.9" fill="#fff"/><circle cx="327.5" cy="838.37" r="5.5" fill="#ff7f0e"/>
<circle cx="331.5" cy="838.37" r="9.9" fill="#fff"/><circle cx="331.5" cy="838.37" r="5.5" fill="#ff7f0e"/>
<circle cx="335.5" cy="838.37" r="9.9" fill="#fff"/><circle cx="335.5" cy="838.37" r="5.5" fill="#ff7f0e"/>
<circle cx="339.5" cy="838.37" r="9.9" fill="#fff"/><circle cx="339.5" cy="838.37" r="5.5" fill="#ff7f0e"/>
<circle cx="344.5" cy="838.37" r="9.9" fill="#fff"/><circle cx="344.5" cy="838.37" r="5.5" fill="#ff7f0e"/>
<circle cx="348.5" cy="838.37" r="9.9" fill="#fff"/><circle cx="348.5" cy="838.37" r="5.5" fill="#ff7f0e"/>
<circle cx="352.5" cy="838.37" r="9.9" fill="#fff"/><circle cx="352.5" cy="838.37" r="5.5" fill="#ff7f0e"/>
<circle cx="356.5" cy="838.37" r="9.9" fill="#fff"/><circle cx="356.5" cy="838.37" r="5.5" fill="#ff7f0e"/>
<circle cx="361.5" cy="838.37" r="9.9" fill="#fff"/><circle cx="361.5" cy="838.37" r="5.5" fill="#ff7f0e"/>
<circle cx="365.5" cy="838.37" r="9.9" fill="#fff"/><circle cx="365.5" cy="838.37" r="5.5" fill="#ff7f0e"/>
<circle cx="369.5" cy="838.37" r="9.9" fill="#fff"/><circle cx="369.5" cy="838.37" r="5.5" fill="#ff7f0e"/>
<circle cx="374.5" cy="838.37" r="9.9" fill="#fff"/><circle cx="374.5" cy="838.37" r="5.5" fill="#ff7f0e"/>
<circle cx="378.5" cy="838.37" r="9.9" fill="#fff"/><circle cx="378.5" cy="838.37" r="5.5" fill="#ff7f0e"/>
<circle cx="382.5" cy="838.37" r="9.9" fill="#fff"/><circle cx="382.5" cy="838.37" r="5.5" fill="#ff7f0e"/>
<circle cx="386.5" cy="838.37" r="9.9" fill="#fff"/><circle cx="386.5" cy="838.37" r="5.5" fill="#ff7f0e"/>
<circle cx="391.5" cy="838.37" r="9.9" fill="#fff"/><circle cx="391.5" cy="838.37" r="5.5" fill="#ff7f0e"/>
<circle cx="395.5" cy="838.37" r="9.9" fill="#fff"/><circle cx="395.5" cy="838.37" r="5.5" fill="#ff7f0e"/>
<circle cx="399.5" cy="838.37" r="9.9" fill="#fff"/><circle cx="399.5" cy="838.37" r="5.5" fill="#ff7f0e"/>
<circle cx="404.5" cy="838.37" r="9.9" fill="#fff"/><circle cx="404.5" cy="838.37" r="5.5" fill="#ff7f0e"/>
<circle cx="408.5" cy="838.37" r="9.9" fill="#fff"/><circle cx="408.5" cy="838.37" r="5.5" fill="#ff7f0e"/>
<circle cx="412.5" cy="838.37" r="9.9" fill="#fff"/><circle cx="412.5" cy="838.37" r="5.5" fill="#ff7f0e"/>
<circle cx="416.5" cy="838.37" r="9.9" fill="#fff"/><circle cx="416.5" cy="838.37" r="5.5" fill="#ff7f0e"/>
<circle cx="421.5" cy="838.37" r="9.9" fill="#fff"/><circle cx="421.5" cy="838.37" r="5.5" fill="#ff7f0e"/>
<circle cx="425.5" cy="838.37" r="9.9" fill="#fff"/><circle cx="425.5" cy="838.37" r="5.5" fill="#ff7f0e"/>
<circle cx="429.5" cy="838.37" r="9.9" fill="#fff"/><circle cx="429.5" cy="838.37" r="5.5" fill="#ff7f0e"/>
<circle cx="434.5" cy="838.37" r="9.9" fill="#fff"/><circle cx="434.5" cy="838.37" r="5.5" fill="#ff7f0e"/>
<circle cx="438.5" cy="838.37" r="9.9" fill="#fff"/><circle cx="438.5" cy="838.37" r="5.5" fill="#ff7f0e"/>
<circle cx="442.5" cy="838.37" r="9.9" fill="#fff"/><circle cx="442.5" cy="838.37" r="5.5" fill="#ff7f0e"/>
<circle cx="446.5" cy="838.37" r="9.9" fill="#fff"/><circle cx="446.5" cy="838.37" r="5.5" fill="#ff7f0e"/>
<circle cx="451.5" cy="838.37" r="9.9" fill="#fff"/><circle cx="451.5" cy="838.37" r="5.5" fill="#ff7f0e"/>
<circle cx="455.5" cy="838.37" r="9.9" fill="#fff"/><circle cx="455.5" cy="838.37" r="5.5" fill="#ff7f0e"/>
<circle cx="459.5" cy="838.37" r="9.9" fill="#fff"/><circle cx="459.5" cy="838.37" r="5.5" fill="#ff7f0e"/>
<circle cx="464.5" cy="838.37" r="9.9" fill="#fff"/><circle cx="464.5" cy="838.37" r="5.5" fill="#ff7f0e"/>
<circle cx="468.5" cy="838.37" r="9.9" fill="#fff"/><circle cx="468.5" cy="838.37" r="5.5" fill="#ff7f0e"/>
<circle cx="472.5" cy="838.37" r="9.9" fill="#fff"/><circle cx="472.5" cy="838.37" r="5.5" fill="#ff7f0e"/>
<circle cx="476.5" cy="838.37" r="9.9" fill="#fff"/><circle cx="476.5" cy="838.37" r="5.5" fill="#ff7f0e"/>
<circle cx="481.5" cy="838.37" r="9.9" fill="#fff"/><circle cx="481.5" cy="838.37" r="5.5" fill="#ff7f0e"/>
<circle cx="485.5" cy="838.37" r="9.9" fill="#fff"/><circle cx="485.5" cy="838.37" r="5.5" fill="#ff7f0e"/>
<circle cx="489.5" cy="838.37" r="9.9" fill="#fff"/><circle cx="489.5" cy="838.37" r="5.5" fill="#ff7f0e"/>
<circle cx="493.5" cy="838.37" r="9.9" fill="#fff"/><circle cx="493.5" cy="838.37" r="5.5" fill="#ff7f0e"/>
<circle cx="498.5" cy="838.37" r="9.9" fill="#fff"/><circle cx="498.5" cy="838.37" r="5.5" fill="#ff7f0e"/>
<circle cx="502.5" cy="838.37" r="9.9" fill="#fff"/><circle cx="502.5" cy="838.37" r="5.5" fill="#ff7f0e"/>
<circle cx="506.5" cy="838.37" r="9.9" fill="#fff"/><circle cx="506.5" cy="838.37" r="5.5" fill="#ff7f0e"/>
<circle cx="511.5" cy="838.37" r="9.9" fill="#fff"/><circle cx="511.5" cy="838.37" r="5.5" fill="#ff7f0e"/>
<circle cx="515.5" cy="838.37" r="9.9" fill="#fff"/><circle cx="515.5" cy="838.37" r="5.5" fill="#ff7f0e"/>
<circle cx="519.5" cy="838.37" r="9.9" fill="#fff"/><circle cx="519.5" cy="838.37" r="5.5" fill="#ff7f0e"/>
<circle cx="523.5" cy="838.37" r="9.9" fill="#fff"/><circle cx="523.5" cy="838.37" r="5.5" fill="#ff7f0e"/>
<circle cx="528.5" cy="838.37" r="9.9" fill="#fff"/><circle cx="528.5" cy="838.37" r="5.5" fill="#ff7f0e"/>
<circle cx="532.5" cy="838.37" r="9.9" fill="#fff"/><circle cx="532.5" cy="838.37" r="5.5" fill="#ff7f0e"/>
<circle cx="536.5" cy="838.37" r="9.9" fill="#fff"/><circle cx="536.5" cy="838.37" r="5.5" fill="#ff7f0e"/>
<circle cx="541.5" cy="838.37" r="9.9" fill="#fff"/><circle cx="541.5" cy="838.37" r="5.5" fill="#ff7f0e"/>
<circle cx="545.5" cy="838.37" r="9.9" fill="#fff"/><circle cx="545.5" cy="838.37" r="5.5" fill="#ff7f0e"/>
<circle cx="549.5" cy="838.37" r="9.9" fill="#fff"/><circle cx="549.5" cy="838.37" r="5.5" fill="#ff7f0e"/>
<circle cx="553.5" cy="838.37" r="9.9" fill="#fff"/><circle cx="553.5" cy="838.37" r="5.5" fill="#ff7f0e"/>
<circle cx="558.5" cy="838.37" r="9.9" fill="#fff"/><circle cx="558.5" cy="838.37" r="5.5" fill="#ff7f0e"/>
<circle cx="562.5" cy="838.37" r="9.9" fill="#fff"/><circle cx="562.5" cy="838.37" r="5.5" fill="#ff7f0e"/>
<circle cx="566.5" cy="838.37" r="9.9" fill="#fff"/><circle cx="566.5" cy="838.37" r="5.5" fill="#ff7f0e"/>
<circle cx="570.5" cy="838.37" r="9.9" fill="#fff"/><circle cx="570.5" cy="838.37" r="5.5" fill="#ff7f0e"/>
<circle cx="575.5" cy="838.37" r="9.9" fill="#fff"/><circle cx="575.5" cy="838.37" r="5.5" fill="#ff7f0e"/>
<circle cx="579.5" cy="838.37" r="9.9" fill="#fff"/><circle cx="579.5" cy="838.37" r="5.5" fill="#ff7f0e"/>
<circle cx="583.5" cy="838.37" r="9.9" fill="#fff"/><circle cx="583.5" cy="838.37" r="5.5" fill="#ff7f0e"/>
<circle cx="588.5" cy="838.37" r="9.9" fill="#fff"/><circle cx="588.5" cy="838.37" r="5.5" fill="#ff7f0e"/>
<circle cx="592.5" cy="838.37" r="9.9" fill="#fff"/><circle cx="592.5" cy="838.37" r="5.5" fill="#ff7f0e"/>
<circle cx="596.5" cy="838.37" r="9.9" fill="#fff"/><circle cx="596.5" cy="838.37" r="5.5" fill="#ff7f0e"/>
<circle cx="600.5" cy="838.37" r="9.9" fill="#fff"/><circle cx="600.5" cy="838.37" r="5.5" fill="#ff7f0e"/>
<circle cx="605.5" cy="838.37" r="9.9" fill="#fff"/><circle cx="605.5" cy="838.37" r="5.5" fill="#ff7f0e"/>
<circle cx="609.5" cy="838.37" r="9.9" fill="#fff"/><circle cx="609.5" cy="838.37" r="5.5" fill="#ff7f0e"/>
<circle cx="613.5" cy="838.37" r="9.9" fill="#fff"/><circle cx="613.5" cy="838.37" r="5.5" fill="#ff7f0e"/>
<circle cx="618.5" cy="838.37" r="9.9" fill="#fff"/><circle cx="618.5" cy="838.37" r="5.5" fill="#ff7f0e"/>
<circle cx="622.5" cy="838.37" r="9.9" fill="#fff"/><circle cx="622.5" cy="838.37" r="5.5" fill="#ff7f0e"/>
<circle cx="626.5" cy="838.37" r="9.9" fill="#fff"/><circle cx="626.5" cy="838.37" r="5.5" fill="#ff7f0e"/>
<circle cx="630.5" cy="838.37" r="9.9" fill="#fff"/><circle cx="630.5" cy="838.37" r="5.5" fill="#ff7f0e"/>
<circle cx="635.5" cy="838.37" r="9.9" fill="#fff"/><circle cx="635.5" cy="838.37" r="5.5" fill="#ff7f0e"/>
<circle cx="639.5" cy="838.37" r="9.9" fill="#fff"/><circle cx="639.5" cy="838.37" r="5.5" fill="#ff7f0e"/>
<circle cx="643.5" cy="838.37" r="9.9" fill="#fff"/><circle cx="643.5" cy="838.37" r="5.5" fill="#ff7f0e"/>
<circle cx="648.5" cy="838.37" r="9.9" fill="#fff"/><circle cx="648.5" cy="838.37" r="5.5" fill="#ff7f0e"/>
<circle cx="652.5" cy="838.37" r="9.9" fill="#fff"/><circle cx="652.5" cy="838.37" r="5.5" fill="#ff7f0e"/>
<circle cx="656.5" cy="838.37" r="9.9" fill="#fff"/><circle cx="656.5" cy="838.37" r="5.5" fill="#ff7f0e"/>
<circle cx="660.5" cy="838.37" r="9.9" fill="#fff"/><circle cx="660.5" cy="838.37" r="5.5" fill="#ff7f0e"/>
<circle cx="665.5" cy="838.37" r="9.9" fill="#fff"/><circle cx="665.5" cy="838.37" r="5.5" fill="#ff7f0e"/>
<circle cx="669.5" cy="838.37" r="9.9" fill="#fff"/><circle cx="669.5" cy="838.37" r="5.5" fill="#ff7f0e"/>
<circle cx="673.5" cy="838.37" r="9.9" fill="#fff"/><circle cx="673.5" cy="838.37" r="5.5" fill="#ff7f0e"/>
<circle cx="678.5" cy="838.37" r="9.9" fill="#fff"/><circle cx="678.5" cy="838.37" r="5.5" fill="#ff7f0e"/>
<circle cx="682.5" cy="838.37" r="9.9" fill="#fff"/><circle cx="682.5" cy="838.37" r="5.5" fill="#ff7f0e"/>
<circle cx="686.5" cy="838.37" r="9.9" fill="#fff"/><circle cx="686.5" cy="838.37" r="5.5" fill="#ff7f0e"/>
<circle cx="690.5" cy="838.37" r="9.9" fill="#fff"/><circle cx="690.5" cy="838.37" r="5.5" fill="#ff7f0e"/>
<circle cx="695.5" cy="838.37" r="9.9" fill="#fff"/><circle cx="695.5" cy="838.37" r="5.5" fill="#ff7f0e"/>
<circle cx="699.5" cy="838.37" r="9.9" fill="#fff"/><circle cx="699.5" cy="838.37" r="5.5" fill="#ff7f0e"/>
<circle cx="703.5" cy="838.37" r="9.9" fill="#fff"/><circle cx="703.5" cy="838.37" r="5.5" fill="#ff7f0e"/>
<circle cx="707.5" cy="838.37" r="9.9" fill="#fff"/><circle cx="707.5" cy="838.37" r="5.5" fill="#ff7f0e"/>
<circle cx="712.5" cy="838.37" r="9.9" fill="#fff"/><circle cx="712.5" cy="838.37" r="5.5" fill="#ff7f0e"/>
<circle cx="716.5" cy="838.37" r="9.9" fill="#fff"/><circle cx="716.5" cy="838.37" r="5.5" fill="#ff7f0e"/>
<circle cx="720.5" cy="838.37" r="9.9" fill="#fff"/><circle cx="720.5" cy="838.37" r="5.5" fill="#ff7f0e"/>
<circle cx="725.5" cy="838.37" r="9.9" fill="#fff"/><circle cx="725.5" cy="838.37" r="5.5" fill="#ff7f0e"/>
<circle cx="729.5" cy="838.37" r="9.9" fill="#fff"/><circle cx="729.5" cy="838.37" r="5.5" fill="#ff7f0e"/>
<circle cx="733.5" cy="838.37" r="9.9" fill="#fff"/><circle cx="733.5" cy="838.37" r="5.5" fill="#ff7f0e"/>
<circle cx="737.5" cy="838.37" r="9.9" fill="#fff"/><circle cx="737.5" cy="838.37" r="5.5" fill="#ff7f0e"/>
<circle cx="742.5" cy="838.37" r="9.9" fill="#fff"/><circle cx="742.5" cy="838.37" r="5.5" fill="#ff7f0e"/>
<circle cx="746.5" cy="838.37" r="9.9" fill="#fff"/><circle cx="746.5" cy="838.37" r="5.5" fill="#ff7f0e"/>
<circle cx="750.5" cy="838.37" r="9.9" fill="#fff"/><circle cx="750.5" cy="838.37" r="5.5" fill="#ff7f0e"/>
<circle cx="754.5" cy="838.37" r="9.9" fill="#fff"/><circle cx="754.5" cy="838.37" r="5.5" fill="#ff7f0e"/>
<circle cx="759.5" cy="838.37" r="9.9" fill="#fff"/><circle cx="759.5" cy="838.37" r="5.5" fill="#ff7f0e"/>
<circle cx="763.5" cy="838.37" r="9.9" fill="#fff"/><circle cx="763.5" cy="838.37" r="5.5" fill="#ff7f0e"/>
<circle cx="767.5" cy="838.37" r="9.9" fill="#fff"/><circle cx="767.5" cy="838.37" r="5.5" fill="#ff7f0e"/>
<circle cx="772.5" cy="838.37" r="9.9" fill="#fff"/><circle cx="772.5" cy="838.37" r="5.5" fill="#ff7f0e"/>
<circle cx="776.5" cy="838.37" r="9.9" fill="#fff"/><circle cx="776.5" cy="838.37" r="5.5" fill="#ff7f0e"/>
<circle cx="780.5" cy="838.37" r="9.9" fill="#fff"/><circle cx="780.5" cy="838.37" r="5.5" fill="#ff7f0e"/>
<circle cx="784.5" cy="838.37" r="9.9" fill="#fff"/><circle cx="784.5" cy="838.37" r="5.5" fill="#ff7f0e"/>
<circle cx="789.5" cy="838.37" r="9.9" fill="#fff"/><circle cx="789.5" cy="838.37" r="5.5" fill="#ff7f0e"/>
<circle cx="793.5" cy="838.37" r="9.9" fill="#fff"/><circle cx="793.5" cy="838.37" r="5.5" fill="#ff7f0e"/>
<circle cx="797.5" cy="838.37" r="9.9" fill="#fff"/><circle cx="797.5" cy="838.37" r="5.5" fill="#ff7f0e"/>
<circle cx="802.5" cy="838.37" r="9.9" fill="#fff"/><circle cx="802.5" cy="838.37" r="5.5" fill="#ff7f0e"/>
<circle cx="806.5" cy="838.37" r="9.9" fill="#fff"/><circle cx="806.5" cy="838.37" r="5.5" fill="#ff7f0e"/>
<circle cx="810.5" cy="838.37" r="9.9" fill="#fff"/><circle cx="810.5" cy="838.37" r="5.5" fill="#ff7f0e"/>
<circle cx="814.5" cy="838.37" r="9.9" fill="#fff"/><circle cx="814.5" cy="838.37" r="5.5" fill="#ff7f0e"/>
<circle cx="819.5" cy="838.37" r="9.9" fill="#fff"/><circle cx="819.5" cy="838.37" r="5.5" fill="#ff7f0e"/>
<circle cx="823.5" cy="838.37" r="9.9" fill="#fff"/><circle cx="823.5" cy="838.37" r="5.5" fill="#ff7f0e"/>
<circle cx="827.5" cy="838.37" r="9.9" fill="#fff"/><circle cx="827.5" cy="838.37" r="5.5" fill="#ff7f0e"/>
<circle cx="832.5" cy="838.37" r="9.9" fill="#fff"/><circle cx="832.5" cy="838.37" r="5.5" fill="#ff7f0e"/>
<circle cx="836.5" cy="838.37" r="9.9" fill="#fff"/><circle cx="836.5" cy="838.37" r="5.5" fill="#ff7f0e"/>
<circle cx="840.5" cy="838.37" r="9.9" fill="#fff"/><circle cx="840.5" cy="838.37" r="5.5" fill="#ff7f0e"/>
<circle cx="844.5" cy="838.37" r="9.9" fill="#fff"/><circle cx="844.5" cy="838.37" r="5.5" fill="#ff7f0e"/>
<circle cx="849.5" cy="838.37" r="9.9" fill="#fff"/><circle cx="849.5" cy="838.37" r="5.5" fill="#ff7f0e"/>
<circle cx="853.5" cy="838.37" r="9.9" fill="#fff"/><circle cx="853.5" cy="838.37" r="5.5" fill="#ff7f0e"/>
<circle cx="857.5" cy="838.37" r="9.9" fill="#fff"/><circle cx="857.5" cy="838.37" r="5.5" fill="#ff7f0e"/>
<circle cx="862.5" cy="838.37" r="9.9" fill="#fff"/><circle cx="862.5" cy="838.37" r="5.5" fill="#ff7f0e"/>
<circle cx="866.5" cy="838.37" r="9.9" fill="#fff"/><circle cx="866.5" cy="838.37" r="5.5" fill="#ff7f0e"/>
<circle cx="870.5" cy="838.37" r="9.9" fill="#fff"/><circle cx="870.5" cy="838.37" r="5.5" fill="#ff7f0e"/>
<circle cx="874.5" cy="838.37" r="9.9" fill="#fff"/><circle cx="874.5" cy="838.37" r="5.5" fill="#ff7f0e"/>
<circle cx="879.5" cy="838.37" r="9.9" fill="#fff"/><circle cx="879.5" cy="838.37" r="5.5" fill="#ff7f0e"/>
<circle cx="883.5" cy="838.37" r="9.9" fill="#fff"/><circle cx="883.5" cy="838.37" r="5.5" fill="#ff7f0e"/>
<circle cx="887.5" cy="838.37" r="9.9" fill="#fff"/><circle cx="887.5" cy="838.37" r="5.5" fill="#ff7f0e"/>
<circle cx="891.5" cy="838.37" r="9.9" fill="#fff"/><circle cx="891.5" cy="838.37" r="5.5" fill="#ff7f0e"/>
<circle cx="896.5" cy="838.37" r="9.9" fill="#fff"/><circle cx="896.5" cy="838.37" r="5.5" fill="#ff7f0e"/>
<circle cx="900.5" cy="838.37" r="9.9" fill="#fff"/><circle cx="900.5" cy="838.37" r="5.5" fill="#ff7f0e"/>
<circle cx="904.5" cy="838.37" r="9.9" fill="#fff"/><circle cx="904.5" cy="838.37" r="5.5" fill="#ff7f0e"/>
<circle cx="909.5" cy="838.37" r="9.9" fill="#fff"/><circle cx="909.5" cy="838.37" r="5.5" fill="#ff7f0e"/>
<circle cx="913.5" cy="838.37" r="9.9" fill="#fff"/><circle cx="913.5" cy="838.37" r="5.5" fill="#ff7f0e"/>
<circle cx="917.5" cy="838.37" r="9.9" fill="#fff"/><circle cx="917.5" cy="838.37" r="5.5" fill="#ff7f0e"/>
<circle cx="921.5" cy="838.37" r="9.9" fill="#fff"/><circle cx="921.5" cy="838.37" r="5.5" fill="#ff7f0e"/>
<circle cx="926.5" cy="838.37" r="9.9" fill="#fff"/><circle cx="926.5" cy="838.37" r="5.5" fill="#ff7f0e"/>
<circle cx="930.5" cy="838.37" r="9.9" fill="#fff"/><circle cx="930.5" cy="838.37" r="5.5" fill="#ff7f0e"/>
<circle cx="934.5" cy="838.37" r="9.9" fill="#fff"/><circle cx="934.5" cy="838.37" r="5.5" fill="#ff7f0e"/>
<circle cx="939.5" cy="838.37" r="9.9" fill="#fff"/><circle cx="939.5" cy="838.37" r="5.5" fill="#ff7f0e"/>
<circle cx="943.5" cy="838.37" r="9.9" fill="#fff"/><circle cx="943.5" cy="838.37" r="5.5" fill="#ff7f0e"/>
<circle cx="947.5" cy="838.37" r="9.9" fill="#fff"/><circle cx="947.5" cy="838.37" r="5.5" fill="#ff7f0e"/>
<circle cx="951.5" cy="838.37" r="9.9" fill="#fff"/><circle cx="951.5" cy="838.37" r="5.5" fill="#ff7f0e"/>
<circle cx="956.5" cy="838.37" r="9.9" fill="#fff"/><circle cx="956.5" cy="838.37" r="5.5" fill="#ff7f0e"/>
<circle cx="960.5" cy="838.37" r="9.9" fill="#fff"/><circle cx="960.5" cy="838.37" r="5.5" fill="#ff7f0e"/>
<circle cx="964.5" cy="838.37" r="9.9" fill="#fff"/><circle cx="964.5" cy="838.37" r="5.5" fill="#ff7f0e"/>
<circle cx="968.5" cy="838.37" r="9.9" fill="#fff"/><circle cx="968.5" cy="838.37" r="5.5" fill="#ff7f0e"/>
<circle cx="973.5" cy="838.37" r="9.9" fill="#fff"/><circle cx="973.5" cy="838.37" r="5.5" fill="#ff7f0e"/>
<circle cx="977.5" cy="838.37" r="9.9" fill="#fff"/><circle cx="977.5" cy="838.37" r="5.5" fill="#ff7f0e"/>
<circle cx="981.5" cy="838.37" r="9.9" fill="#fff"/><circle cx="981.5" cy="838.37" r="5.5" fill="#ff7f0e"/>
<circle cx="986.5" cy="838.37" r="9.9" fill="#fff"/><circle cx="986.5" cy="838.37" r="5.5" fill="#ff7f0e"/>
<circle cx="990.5" cy="838.37" r="9.9" fill="#fff"/><circle cx="990.5" cy="838.37" r="5.5" fill="#ff7f0e"/>
<circle cx="994.5" cy="838.37" r="9.9" fill="#fff"/><circle cx="994.5" cy="838.37" r="5.5" fill="#ff7f0e"/>
<circle cx="998.5" cy="838.37" r="9.9" fill="#fff"/><circle cx="998.5" cy="838.37" r="5.5" fill="#ff7f0e"/></g>
<g id="ip"><path d="M95.5 837.98L100.5 837.98L104.5 837.98L108.5 837.98L113.5 837.98L117.5 837.98L121.5 837.98L125.5 837.98L130.5 838.24L134.5 834.6L138.5 837.46L143.5 816.37L147.5 785.26L151.5 837.2L155.5 832.64L160.5 838.24L164.5 816.37L168.5 838.24L172.5 838.11L177.5 837.85L181.5 836.68L185.5 804.4L190.5 833.68L194.5 838.11L198.5 837.98L202.5 837.98L207.5 837.98L211.5 837.46L215.5 836.55L220.5 833.55L224.5 835.51L228.5 836.94L232.5 837.85L237.5 836.94L241.5 835.38L245.5 700L250.5 403.09L254.5 402.7L258.5 402.18L262.5 401.66L267.5 402.18L271.5 399.19L275.5 404L279.5 402.18L284.5 401.66L288.5 470.26L292.5 400.62L297.5 398.8L301.5 398.28L305.5 499.29L309.5 837.85L314.5 837.98L318.5 837.98L322.5 837.98L327.5 837.98L331.5 837.98L335.5 837.98L339.5 837.98L344.5 834.99L348.5 837.98L352.5 837.98L356.5 837.98L361.5 837.98L365.5 837.98L369.5 837.98L374.5 837.98L378.5 837.98L382.5 837.98L386.5 837.98L391.5 834.99L395.5 836.55L399.5 322L404.5 78.46L408.5 574.26L412.5 838.11L416.5 836.16L421.5 823.27L425.5 835.38L429.5 563.46L434.5 73.38L438.5 651.45L442.5 838.11L446.5 837.98L451.5 838.24L455.5 834.86L459.5 837.98L464.5 837.98L468.5 837.98L472.5 838.5L476.5 832.51L481.5 838.11L485.5 837.98L489.5 838.5L493.5 827.44L498.5 838.11L502.5 837.98L506.5 837.98L511.5 838.5L515.5 835.64L519.5 835.9L523.5 837.98L528.5 838.5L532.5 835.38L536.5 837.98L541.5 837.98L545.5 837.98L549.5 838.5L553.5 834.07L558.5 837.98L562.5 837.46L566.5 836.68L570.5 835.25L575.5 799.32L579.5 838.11L583.5 837.85L588.5 837.2L592.5 824.18L596.5 835.77L600.5 837.98L605.5 835.9L609.5 838.5L613.5 833.29L618.5 837.98L622.5 837.98L626.5 836.68L630.5 835.25L635.5 650.41L639.5 838.11L643.5 837.98L648.5 835.9L652.5 836.55L656.5 801.4L660.5 837.85L665.5 837.98L669.5 837.98L673.5 837.85L678.5 837.2L682.5 745.17L686.5 838.5L690.5 835.38L695.5 837.85L699.5 836.55L703.5 807.39L707.5 837.85L712.5 837.98L716.5 837.46L720.5 836.68L725.5 835.64L729.5 424.31L733.5 677.22L737.5 837.85L742.5 837.98L746.5 837.98L750.5 837.98L754.5 837.98L759.5 835.64L763.5 837.98L767.5 837.98L772.5 837.98L776.5 836.42L780.5 837.98L784.5 838.5L789.5 835.38L793.5 837.98L797.5 837.98L802.5 837.98L806.5 837.98L810.5 837.98L814.5 838.5L819.5 836.29L823.5 837.98L827.5 837.98L832.5 837.98L836.5 837.98L840.5 837.98L844.5 837.98L849.5 837.98L853.5 837.98L857.5 838.5L862.5 836.03L866.5 837.98L870.5 837.98L874.5 837.98L879.5 837.98L883.5 837.98L887.5 837.98L891.5 837.98L896.5 837.98L900.5 837.98L904.5 834.07L909.5 837.98L913.5 837.98L917.5 837.98L921.5 837.98L926.5 837.98L930.5 837.98L934.5 837.98L939.5 837.98L943.5 837.98L947.5 836.16L951.5 837.98L956.5 837.98L960.5 837.98L964.5 837.98L968.5 837.98L973.5 836.55L977.5 837.98L981.5 838.24L986.5 836.94L990.5 835.64L994.5 837.46L998.5 836.29" fill="none" stroke="#2ca02c" stroke-width="2" stroke-linejoin="round"/><circle cx="95.5" cy="837.98" r="9.9" fill="#fff"/><circle cx="95.5" cy="837.98" r="5.5" fill="#2ca02c"/>
<circle cx="100.5" cy="837.98" r="9.9" fill="#fff"/><circle cx="100.5" cy="837.98" r="5.5" fill="#2ca02c"/>
<circle cx="104.5" cy="837.98" r="9.9" fill="#fff"/><circle cx="104.5" cy="837.98" r="5.5" fill="#2ca02c"/>
<circle cx="108.5" cy="837.98" r="9.9" fill="#fff"/><circle cx="108.5" cy="837.98" r="5.5" fill="#2ca02c"/>
<circle cx="113.5" cy="837.98" r="9.9" fill="#fff"/><circle cx="113.5" cy="837.98" r="5.5" fill="#2ca02c"/>
<circle cx="117.5" cy="837.98" r="9.9" fill="#fff"/><circle cx="117.5" cy="837.98" r="5.5" fill="#2ca02c"/>
<circle cx="121.5" cy="837.98" r="9.9" fill="#fff"/><circle cx="121.5" cy="837.98" r="5.5" fill="#2ca02c"/>
<circle cx="125.5" cy="837.98" r="9.9" fill="#fff"/><circle cx="125.5" cy="837.98" r="5.5" fill="#2ca02c"/>
<circle cx="130.5" cy="838.24" r="9.9" fill="#fff"/><circle cx="130.5" cy="838.24" r="5.5" fill="#2ca02c"/>
<circle cx="134.5" cy="834.6" r="9.9" fill="#fff"/><circle cx="134.5" cy="834.6" r="5.5" fill="#2ca02c"/>
<circle cx="138.5" cy="837.46" r="9.9" fill="#fff"/><circle cx="138.5" cy="837.46" r="5.5" fill="#2ca02c"/>
<circle cx="143.5" cy="816.37" r="9.9" fill="#fff"/><circle cx="143.5" cy="816.37" r="5.5" fill="#2ca02c"/>
<circle cx="147.5" cy="785.26" r="9.9" fill="#fff"/><circle cx="147.5" cy="785.26" r="5.5" fill="#2ca02c"/>
<circle cx="151.5" cy="837.2" r="9.9" fill="#fff"/><circle cx="151.5" cy="837.2" r="5.5" fill="#2ca02c"/>
<circle cx="155.5" cy="832.64" r="9.9" fill="#fff"/><circle cx="155.5" cy="832.64" r="5.5" fill="#2ca02c"/>
<circle cx="160.5" cy="838.24" r="9.9" fill="#fff"/><circle cx="160.5" cy="838.24" r="5.5" fill="#2ca02c"/>
<circle cx="164.5" cy="816.37" r="9.9" fill="#fff"/><circle cx="164.5" cy="816.37" r="5.5" fill="#2ca02c"/>
<circle cx="168.5" cy="838.24" r="9.9" fill="#fff"/><circle cx="168.5" cy="838.24" r="5.5" fill="#2ca02c"/>
<circle cx="172.5" cy="838.11" r="9.9" fill="#fff"/><circle cx="172.5" cy="838.11" r="5.5" fill="#2ca02c"/>
<circle cx="177.5" cy="837.85" r="9.9" fill="#fff"/><circle cx="177.5" cy="837.85" r="5.5" fill="#2ca02c"/>
<circle cx="181.5" cy="836.68" r="9.9" fill="#fff"/><circle cx="181.5" cy="836.68" r="5.5" fill="#2ca02c"/>
<circle cx="185.5" cy="804.4" r="9.9" fill="#fff"/><circle cx="185.5" cy="804.4" r="5.5" fill="#2ca02c"/>
<circle cx="190.5" cy="833.68" r="9.9" fill="#fff"/><circle cx="190.5" cy="833.68" r="5.5" fill="#2ca02c"/>
<circle cx="194.5" cy="838.11" r="9.9" fill="#fff"/><circle cx="194.5" cy="838.11" r="5.5" fill="#2ca02c"/>
<circle cx="198.5" cy="837.98" r="9.9" fill="#fff"/><circle cx="198.5" cy="837.98" r="5.5" fill="#2ca02c"/>
<circle cx="202.5" cy="837.98" r="9.9" fill="#fff"/><circle cx="202.5" cy="837.98" r="5.5" fill="#2ca02c"/>
<circle cx="207.5" cy="837.98" r="9.9" fill="#fff"/><circle cx="207.5" cy="837.98" r="5.5" fill="#2ca02c"/>
<circle cx="211.5" cy="837.46" r="9.9" fill="#fff"/><circle cx="211.5" cy="837.46" r="5.5" fill="#2ca02c"/>
<circle cx="215.5" cy="836.55" r="9.9" fill="#fff"/><circle cx="215.5" cy="836.55" r="5.5" fill="#2ca02c"/>
<circle cx="220.5" cy="833.55" r="9.9" fill="#fff"/><circle cx="220.5" cy="833.55" r="5.5" fill="#2ca02c"/>
<circle cx="224.5" cy="835.51" r="9.9" fill="#fff"/><circle cx="224.5" cy="835.51" r="5.5" fill="#2ca02c"/>
<circle cx="228.5" cy="836.94" r="9.9" fill="#fff"/><circle cx="228.5" cy="836.94" r="5.5" fill="#2ca02c"/>
<circle cx="232.5" cy="837.85" r="9.9" fill="#fff"/><circle cx="232.5" cy="837.85" r="5.5" fill="#2ca02c"/>
<circle cx="237.5" cy="836.94" r="9.9" fill="#fff"/><circle cx="237.5" cy="836.94" r="5.5" fill="#2ca02c"/>
<circle cx="241.5" cy="835.38" r="9.9" fill="#fff"/><circle cx="241.5" cy="835.38" r="5.5" fill="#2ca02c"/>
<circle cx="245.5" cy="700" r="9.9" fill="#fff"/><circle cx="245.5" cy="700" r="5.5" fill="#2ca02c"/>
<circle cx="250.5" cy="403.09" r="9.9" fill="#fff"/><circle cx="250.5" cy="403.09" r="5.5" fill="#2ca02c"/>
<circle cx="254.5" cy="402.7" r="9.9" fill="#fff"/><circle cx="254.5" cy="402.7" r="5.5" fill="#2ca02c"/>
<circle cx="258.5" cy="402.18" r="9.9" fill="#fff"/><circle cx="258.5" cy="402.18" r="5.5" fill="#2ca02c"/>
<circle cx="262.5" cy="401.66" r="9.9" fill="#fff"/><circle cx="262.5" cy="401.66" r="5.5" fill="#2ca02c"/>
<circle cx="267.5" cy="402.18" r="9.9" fill="#fff"/><circle cx="267.5" cy="402.18" r="5.5" fill="#2ca02c"/>
<circle cx="271.5" cy="399.19" r="9.9" fill="#fff"/><circle cx="271.5" cy="399.19" r="5.5" fill="#2ca02c"/>
<circle cx="275.5" cy="404" r="9.9" fill="#fff"/><circle cx="275.5" cy="404" r="5.5" fill="#2ca02c"/>
<circle cx="279.5" cy="402.18" r="9.9" fill="#fff"/><circle cx="279.5" cy="402.18" r="5.5" fill="#2ca02c"/>
<circle cx="284.5" cy="401.66" r="9.9" fill="#fff"/><circle cx="284.5" cy="401.66" r="5.5" fill="#2ca02c"/>
<circle cx="288.5" cy="470.26" r="9.9" fill="#fff"/><circle cx="288.5" cy="470.26" r="5.5" fill="#2ca02c"/>
<circle cx="292.5" cy="400.62" r="9.9" fill="#fff"/><circle cx="292.5" cy="400.62" r="5.5" fill="#2ca02c"/>
<circle cx="297.5" cy="398.8" r="9.9" fill="#fff"/><circle cx="297.5" cy="398.8" r="5.5" fill="#2ca02c"/>
<circle cx="301.5" cy="398.28" r="9.9" fill="#fff"/><circle cx="301.5" cy="398.28" r="5.5" fill="#2ca02c"/>
<circle cx="305.5" cy="499.29" r="9.9" fill="#fff"/><circle cx="305.5" cy="499.29" r="5.5" fill="#2ca02c"/>
<circle cx="309.5" cy="837.85" r="9.9" fill="#fff"/><circle cx="309.5" cy="837.85" r="5.5" fill="#2ca02c"/>
<circle cx="314.5" cy="837.98" r="9.9" fill="#fff"/><circle cx="314.5" cy="837.98" r="5.5" fill="#2ca02c"/>
<circle cx="318.5" cy="837.98" r="9.9" fill="#fff"/><circle cx="318.5" cy="837.98" r="5.5" fill="#2ca02c"/>
<circle cx="322.5" cy="837.98" r="9.9" fill="#fff"/><circle cx="322.5" cy="837.98" r="5.5" fill="#2ca02c"/>
<circle cx="327.5" cy="837.98" r="9.9" fill="#fff"/><circle cx="327.5" cy="837.98" r="5.5" fill="#2ca02c"/>
<circle cx="331.5" cy="837.98" r="9.9" fill="#fff"/><circle cx="331.5" cy="837.98" r="5.5" fill="#2ca02c"/>
<circle cx="335.5" cy="837.98" r="9.9" fill="#fff"/><circle cx="335.5" cy="837.98" r="5.5" fill="#2ca02c"/>
<circle cx="339.5" cy="837.98" r="9.9" fill="#fff"/><circle cx="339.5" cy="837.98" r="5.5" fill="#2ca02c"/>
<circle cx="344.5" cy="834.99" r="9.9" fill="#fff"/><circle cx="344.5" cy="834.99" r="5.5" fill="#2ca02c"/>
<circle cx="348.5" cy="837.98" r="9.9" fill="#fff"/><circle cx="348.5" cy="837.98" r="5.5" fill="#2ca02c"/>
<circle cx="352.5" cy="837.98" r="9.9" fill="#fff"/><circle cx="352.5" cy="837.98" r="5.5" fill="#2ca02c"/>
<circle cx="356.5" cy="837.98" r="9.9" fill="#fff"/><circle cx="356.5" cy="837.98" r="5.5" fill="#2ca02c"/>
<circle cx="361.5" cy="837.98" r="9.9" fill="#fff"/><circle cx="361.5" cy="837.98" r="5.5" fill="#2ca02c"/>
<circle cx="365.5" cy="837.98" r="9.9" fill="#fff"/><circle cx="365.5" cy="837.98" r="5.5" fill="#2ca02c"/>
<circle cx="369.5" cy="837.98" r="9.9" fill="#fff"/><circle cx="369.5" cy="837.98" r="5.5" fill="#2ca02c"/>
<circle cx="374.5" cy="837.98" r="9.9" fill="#fff"/><circle cx="374.5" cy="837.98" r="5.5" fill="#2ca02c"/>
<circle cx="378.5" cy="837.98" r="9.9" fill="#fff"/><circle cx="378.5" cy="837.98" r="5.5" fill="#2ca02c"/>
<circle cx="382.5" cy="837.98" r="9.9" fill="#fff"/><circle cx="382.5" cy="837.98" r="5.5" fill="#2ca02c"/>
<circle cx="386.5" cy="837.98" r="9.9" fill="#fff"/><circle cx="386.5" cy="837.98" r="5.5" fill="#2ca02c"/>
<circle cx="391.5" cy="834.99" r="9.9" fill="#fff"/><circle cx="391.5" cy="834.99" r="5.5" fill="#2ca02c"/>
<circle cx="395.5" cy="836.55" r="9.9" fill="#fff"/><circle cx="395.5" cy="836.55" r="5.5" fill="#2ca02c"/>
<circle cx="399.5" cy="322" r="9.9" fill="#fff"/><circle cx="399.5" cy="322" r="5.5" fill="#2ca02c"/>
<circle cx="404.5" cy="78.46" r="9.9" fill="#fff"/><circle cx="404.5" cy="78.46" r="5.5" fill="#2ca02c"/>
<circle cx="408.5" cy="574.26" r="9.9" fill="#fff"/><circle cx="408.5" cy="574.26" r="5.5" fill="#2ca02c"/>
<circle cx="412.5" cy="838.11" r="9.9" fill="#fff"/><circle cx="412.5" cy="838.11" r="5.5" fill="#2ca02c"/>
<circle cx="416.5" cy="836.16" r="9.9" fill="#fff"/><circle cx="416.5" cy="836.16" r="5.5" fill="#2ca02c"/>
<circle cx="421.5" cy="823.27" r="9.9" fill="#fff"/><circle cx="421.5" cy="823.27" r="5.5" fill="#2ca02c"/>
<circle cx="425.5" cy="835.38" r="9.9" fill="#fff"/><circle cx="425.5" cy="835.38" r="5.5" fill="#2ca02c"/>
<circle cx="429.5" cy="563.46" r="9.9" fill="#fff"/><circle cx="429.5" cy="563.46" r="5.5" fill="#2ca02c"/>
<circle cx="434.5" cy="73.38" r="9.9" fill="#fff"/><circle cx="434.5" cy="73.38" r="5.5" fill="#2ca02c"/>
<circle cx="438.5" cy="651.45" r="9.9" fill="#fff"/><circle cx="438.5" cy="651.45" r="5.5" fill="#2ca02c"/>
<circle cx="442.5" cy="838.11" r="9.9" fill="#fff"/><circle cx="442.5" cy="838.11" r="5.5" fill="#2ca02c"/>
<circle cx="446.5" cy="837.98" r="9.9" fill="#fff"/><circle cx="446.5" cy="837.98" r="5.5" fill="#2ca02c"/>
<circle cx="451.5" cy="838.24" r="9.9" fill="#fff"/><circle cx="451.5" cy="838.24" r="5.5" fill="#2ca02c"/>
<circle cx="455.5" cy="834.86" r="9.9" fill="#fff"/><circle cx="455.5" cy="834.86" r="5.5" fill="#2ca02c"/>
<circle cx="459.5" cy="837.98" r="9.9" fill="#fff"/><circle cx="459.5" cy="837.98" r="5.5" fill="#2ca02c"/>
<circle cx="464.5" cy="837.98" r="9.9" fill="#fff"/><circle cx="464.5" cy="837.98" r="5.5" fill="#2ca02c"/>
<circle cx="468.5" cy="837.98" r="9.9" fill="#fff"/><circle cx="468.5" cy="837.98" r="5.5" fill="#2ca02c"/>
<circle cx="472.5" cy="838.5" r="9.9" fill="#fff"/><circle cx="472.5" cy="838.5" r="5.5" fill="#2ca02c"/>
<circle cx="476.5" cy="832.51" r="9.9" fill="#fff"/><circle cx="476.5" cy="832.51" r="5.5" fill="#2ca02c"/>
<circle cx="481.5" cy="838.11" r="9.9" fill="#fff"/><circle cx="481.5" cy="838.11" r="5.5" fill="#2ca02c"/>
<circle cx="485.5" cy="837.98" r="9.9" fill="#fff"/><circle cx="485.5" cy="837.98" r="5.5" fill="#2ca02c"/>
<circle cx="489.5" cy="838.5" r="9.9" fill="#fff"/><circle cx="489.5" cy="838.5" r="5.5" fill="#2ca02c"/>
<circle cx="493.5" cy="827.44" r="9.9" fill="#fff"/><circle cx="493.5" cy="827.44" r="5.5" fill="#2ca02c"/>
<circle cx="498.5" cy="838.11" r="9.9" fill="#fff"/><circle cx="498.5" cy="838.11" r="5.5" fill="#2ca02c"/>
<circle cx="502.5" cy="837.98" r="9.9" fill="#fff"/><circle cx="502.5" cy="837.98" r="5.5" fill="#2ca02c"/>
<circle cx="506.5" cy="837.98" r="9.9" fill="#fff"/><circle cx="506.5" cy="837.98" r="5.5" fill="#2ca02c"/>
<circle cx="511.5" cy="838.5" r="9.9" fill="#fff"/><circle cx="511.5" cy="838.5" r="5.5" fill="#2ca02c"/>
<circle cx="515.5" cy="835.64" r="9.9" fill="#fff"/><circle cx="515.5" cy="835.64" r="5.5" fill="#2ca02c"/>
<circle cx="519.5" cy="835.9" r="9.9" fill="#fff"/><circle cx="519.5" cy="835.9" r="5.5" fill="#2ca02c"/>
<circle cx="523.5" cy="837.98" r="9.9" fill="#fff"/><circle cx="523.5" cy="837.98" r="5.5" fill="#2ca02c"/>
<circle cx="528.5" cy="838.5" r="9.9" fill="#fff"/><circle cx="528.5" cy="838.5" r="5.5" fill="#2ca02c"/>
<circle cx="532.5" cy="835.38" r="9.9" fill="#fff"/><circle cx="532.5" cy="835.38" r="5.5" fill="#2ca02c"/>
<circle cx="536.5" cy="837.98" r="9.9" fill="#fff"/><circle cx="536.5" cy="837.98" r="5.5" fill="#2ca02c"/>
<circle cx="541.5" cy="837.98" r="9.9" fill="#fff"/><circle cx="541.5" cy="837.98" r="5.5" fill="#2ca02c"/>
<circle cx="545.5" cy="837.98" r="9.9" fill="#fff"/><circle cx="545.5" cy="837.98" r="5.5" fill="#2ca02c"/>
<circle cx="549.5" cy="838.5" r="9.9" fill="#fff"/><circle cx="549.5" cy="838.5" r="5.5" fill="#2ca02c"/>
<circle cx="553.5" cy="834.07" r="9.9" fill="#fff"/><circle cx="553.5" cy="834.07" r="5.5" fill="#2ca02c"/>
<circle cx="558.5" cy="837.98" r="9.9" fill="#fff"/><circle cx="558.5" cy="837.98" r="5.5" fill="#2ca02c"/>
<circle cx="562.5" cy="837.46" r="9.9" fill="#fff"/><circle cx="562.5" cy="837.46" r="5.5" fill="#2ca02c"/>
<circle cx="566.5" cy="836.68" r="9.9" fill="#fff"/><circle cx="566.5" cy="836.68" r="5.5" fill="#2ca02c"/>
<circle cx="570.5" cy="835.25" r="9.9" fill="#fff"/><circle cx="570.5" cy="835.25" r="5.5" fill="#2ca02c"/>
<circle cx="575.5" cy="799.32" r="9.9" fill="#fff"/><circle cx="575.5" cy="799.32" r="5.5" fill="#2ca02c"/>
<circle cx="579.5" cy="838.11" r="9.9" fill="#fff"/><circle cx="579.5" cy="838.11" r="5.5" fill="#2ca02c"/>
<circle cx="583.5" cy="837.85" r="9.9" fill="#fff"/><circle cx="583.5" cy="837.85" r="5.5" fill="#2ca02c"/>
<circle cx="588.5" cy="837.2" r="9.9" fill="#fff"/><circle cx="588.5" cy="837.2" r="5.5" fill="#2ca02c"/>
<circle cx="592.5" cy="824.18" r="9.9" fill="#fff"/><circle cx="592.5" cy="824.18" r="5.5" fill="#2ca02c"/>
<circle cx="596.5" cy="835.77" r="9.9" fill="#fff"/><circle cx="596.5" cy="835.77" r="5.5" fill="#2ca02c"/>
<circle cx="600.5" cy="837.98" r="9.9" fill="#fff"/><circle cx="600.5" cy="837.98" r="5.5" fill="#2ca02c"/>
<circle cx="605.5" cy="835.9" r="9.9" fill="#fff"/><circle cx="605.5" cy="835.9" r="5.5" fill="#2ca02c"/>
<circle cx="609.5" cy="838.5" r="9.9" fill="#fff"/><circle cx="609.5" cy="838.5" r="5.5" fill="#2ca02c"/>
<circle cx="613.5" cy="833.29" r="9.9" fill="#fff"/><circle cx="613.5" cy="833.29" r="5.5" fill="#2ca02c"/>
<circle cx="618.5" cy="837.98" r="9.9" fill="#fff"/><circle cx="618.5" cy="837.98" r="5.5" fill="#2ca02c"/>
<circle cx="622.5" cy="837.98" r="9.9" fill="#fff"/><circle cx="622.5" cy="837.98" r="5.5" fill="#2ca02c"/>
<circle cx="626.5" cy="836.68" r="9.9" fill="#fff"/><circle cx="626.5" cy="836.68" r="5.5" fill="#2ca02c"/>
<circle cx="630.5" cy="835.25" r="9.9" fill="#fff"/><circle cx="630.5" cy="835.25" r="5.5" fill="#2ca02c"/>
<circle cx="635.5" cy="650.41" r="9.9" fill="#fff"/><circle cx="635.5" cy="650.41" r="5.5" fill="#2ca02c"/>
<circle cx="639.5" cy="838.11" r="9.9" fill="#fff"/><circle cx="639.5" cy="838.11" r="5.5" fill="#2ca02c"/>
<circle cx="643.5" cy="837.98" r="9.9" fill="#fff"/><circle cx="643.5" cy="837.98" r="5.5" fill="#2ca02c"/>
<circle cx="648.5" cy="835.9" r="9.9" fill="#fff"/><circle cx="648.5" cy="835.9" r="5.5" fill="#2ca02c"/>
<circle cx="652.5" cy="836.55" r="9.9" fill="#fff"/><circle cx="652.5" cy="836.55" r="5.5" fill="#2ca02c"/>
<circle cx="656.5" cy="801.4" r="9.9" fill="#fff"/><circle cx="656.5" cy="801.4" r="5.5" fill="#2ca02c"/>
<circle cx="660.5" cy="837.85" r="9.9" fill="#fff"/><circle cx="660.5" cy="837.85" r="5.5" fill="#2ca02c"/>
<circle cx="665.5" cy="837.98" r="9.9" fill="#fff"/><circle cx="665.5" cy="837.98" r="5.5" fill="#2ca02c"/>
<circle cx="669.5" cy="837.98" r="9.9" fill="#fff"/><circle cx="669.5" cy="837.98" r="5.5" fill="#2ca02c"/>
<circle cx="673.5" cy="837.85" r="9.9" fill="#fff"/><circle cx="673.5" cy="837.85" r="5.5" fill="#2ca02c"/>
<circle cx="678.5" cy="837.2" r="9.9" fill="#fff"/><circle cx="678.5" cy="837.2" r="5.5" fill="#2ca02c"/>
<circle cx="682.5" cy="745.17" r="9.9" fill="#fff"/><circle cx="682.5" cy="745.17" r="5.5" fill="#2ca02c"/>
<circle cx="686.5" cy="838.5" r="9.9" fill="#fff"/><circle cx="686.5" cy="838.5" r="5.5" fill="#2ca02c"/>
<circle cx="690.5" cy="835.38" r="9.9" fill="#fff"/><circle cx="690.5" cy="835.38" r="5.5" fill="#2ca02c"/>
<circle cx="695.5" cy="837.85" r="9.9" fill="#fff"/><circle cx="695.5" cy="837.85" r="5.5" fill="#2ca02c"/>
<circle cx="699.5" cy="836.55" r="9.9" fill="#fff"/><circle cx="699.5" cy="836.55" r="5.5" fill="#2ca02c"/>
<circle cx="703.5" cy="807.39" r="9.9" fill="#fff"/><circle cx="703.5" cy="807.39" r="5.5" fill="#2ca02c"/>
<circle cx="707.5" cy="837.85" r="9.9" fill="#fff"/><circle cx="707.5" cy="837.85" r="5.5" fill="#2ca02c"/>
<circle cx="712.5" cy="837.98" r="9.9" fill="#fff"/><circle cx="712.5" cy="837.98" r="5.5" fill="#2ca02c"/>
<circle cx="716.5" cy="837.46" r="9.9" fill="#fff"/><circle cx="716.5" cy="837.46" r="5.5" fill="#2ca02c"/>
<circle cx="720.5" cy="836.68" r="9.9" fill="#fff"/><circle cx="720.5" cy="836.68" r="5.5" fill="#2ca02c"/>
<circle cx="725.5" cy="835.64" r="9.9" fill="#fff"/><circle cx="725.5" cy="835.64" r="5.5" fill="#2ca02c"/>
<circle cx="729.5" cy="424.31" r="9.9" fill="#fff"/><circle cx="729.5" cy="424.31" r="5.5" fill="#2ca02c"/>
<circle cx="733.5" cy="677.22" r="9.9" fill="#fff"/><circle cx="733.5" cy="677.22" r="5.5" fill="#2ca02c"/>
<circle cx="737.5" cy="837.85" r="9.9" fill="#fff"/><circle cx="737.5" cy="837.85" r="5.5" fill="#2ca02c"/>
<circle cx="742.5" cy="837.98" r="9.9" fill="#fff"/><circle cx="742.5" cy="837.98" r="5.5" fill="#2ca02c"/>
<circle cx="746.5" cy="837.98" r="9.9" fill="#fff"/><circle cx="746.5" cy="837.98" r="5.5" fill="#2ca02c"/>
<circle cx="750.5" cy="837.98" r="9.9" fill="#fff"/><circle cx="750.5" cy="837.98" r="5.5" fill="#2ca02c"/>
<circle cx="754.5" cy="837.98" r="9.9" fill="#fff"/><circle cx="754.5" cy="837.98" r="5.5" fill="#2ca02c"/>
<circle cx="759.5" cy="835.64" r="9.9" fill="#fff"/><circle cx="759.5" cy="835.64" r="5.5" fill="#2ca02c"/>
<circle cx="763.5" cy="837.98" r="9.9" fill="#fff"/><circle cx="763.5" cy="837.98" r="5.5" fill="#2ca02c"/>
<circle cx="767.5" cy="837.98" r="9.9" fill="#fff"/><circle cx="767.5" cy="837.98" r="5.5" fill="#2ca02c"/>
<circle cx="772.5" cy="837.98" r="9.9" fill="#fff"/><circle cx="772.5" cy="837.98" r="5.5" fill="#2ca02c"/>
<circle cx="776.5" cy="836.42" r="9.9" fill="#fff"/><circle cx="776.5" cy="836.42" r="5.5" fill="#2ca02c"/>
<circle cx="780.5" cy="837.98" r="9.9" fill="#fff"/><circle cx="780.5" cy="837.98" r="5.5" fill="#2ca02c"/>
<circle cx="784.5" cy="838.5" r="9.9" fill="#fff"/><circle cx="784.5" cy="838.5" r="5.5" fill="#2ca02c"/>
<circle cx="789.5" cy="835.38" r="9.9" fill="#fff"/><circle cx="789.5" cy="835.38" r="5.5" fill="#2ca02c"/>
<circle cx="793.5" cy="837.98" r="9.9" fill="#fff"/><circle cx="793.5" cy="837.98" r="5.5" fill="#2ca02c"/>
<circle cx="797.5" cy="837.98" r="9.9" fill="#fff"/><circle cx="797.5" cy="837.98" r="5.5" fill="#2ca02c"/>
<circle cx="802.5" cy="837.98" r="9.9" fill="#fff"/><circle cx="802.5" cy="837.98" r="5.5" fill="#2ca02c"/>
<circle cx="806.5" cy="837.98" r="9.9" fill="#fff"/><circle cx="806.5" cy="837.98" r="5.5" fill="#2ca02c"/>
<circle cx="810.5" cy="837.98" r="9.9" fill="#fff"/><circle cx="810.5" cy="837.98" r="5.5" fill="#2ca02c"/>
<circle cx="814.5" cy="838.5" r="9.9" fill="#fff"/><circle cx="814.5" cy="838.5" r="5.5" fill="#2ca02c"/>
<circle cx="819.5" cy="836.29" r="9.9" fill="#fff"/><circle cx="819.5" cy="836.29" r="5.5" fill="#2ca02c"/>
<circle cx="823.5" cy="837.98" r="9.9" fill="#fff"/><circle cx="823.5" cy="837.98" r="5.5" fill="#2ca02c"/>
<circle cx="827.5" cy="837.98" r="9.9" fill="#fff"/><circle cx="827.5" cy="837.98" r="5.5" fill="#2ca02c"/>
<circle cx="832.5" cy="837.98" r="9.9" fill="#fff"/><circle cx="832.5" cy="837.98" r="5.5" fill="#2ca02c"/>
<circle cx="836.5" cy="837.98" r="9.9" fill="#fff"/><circle cx="836.5" cy="837.98" r="5.5" fill="#2ca02c"/>
<circle cx="840.5" cy="837.98" r="9.9" fill="#fff"/><circle cx="840.5" cy="837.98" r="5.5" fill="#2ca02c"/>
<circle cx="844.5" cy="837.98" r="9.9" fill="#fff"/><circle cx="844.5" cy="837.98" r="5.5" fill="#2ca02c"/>
<circle cx="849.5" cy="837.98" r="9.9" fill="#fff"/><circle cx="849.5" cy="837.98" r="5.5" fill="#2ca02c"/>
<circle cx="853.5" cy="837.98" r="9.9" fill="#fff"/><circle cx="853.5" cy="837.98" r="5.5" fill="#2ca02c"/>
<circle cx="857.5" cy="838.5" r="9.9" fill="#fff"/><circle cx="857.5" cy="838.5" r="5.5" fill="#2ca02c"/>
<circle cx="862.5" cy="836.03" r="9.9" fill="#fff"/><circle cx="862.5" cy="836.03" r="5.5" fill="#2ca02c"/>
<circle cx="866.5" cy="837.98" r="9.9" fill="#fff"/><circle cx="866.5" cy="837.98" r="5.5" fill="#2ca02c"/>
<circle cx="870.5" cy="837.98" r="9.9" fill="#fff"/><circle cx="870.5" cy="837.98" r="5.5" fill="#2ca02c"/>
<circle cx="874.5" cy="837.98" r="9.9" fill="#fff"/><circle cx="874.5" cy="837.98" r="5.5" fill="#2ca02c"/>
<circle cx="879.5" cy="837.98" r="9.9" fill="#fff"/><circle cx="879.5" cy="837.98" r="5.5" fill="#2ca02c"/>
<circle cx="883.5" cy="837.98" r="9.9" fill="#fff"/><circle cx="883.5" cy="837.98" r="5.5" fill="#2ca02c"/>
<circle cx="887.5" cy="837.98" r="9.9" fill="#fff"/><circle cx="887.5" cy="837.98" r="5.5" fill="#2ca02c"/>
<circle cx="891.5" cy="837.98" r="9.9" fill="#fff"/><circle cx="891.5" cy="837.98" r="5.5" fill="#2ca02c"/>
<circle cx="896.5" cy="837.98" r="9.9" fill="#fff"/><circle cx="896.5" cy="837.98" r="5.5" fill="#2ca02c"/>
<circle cx="900.5" cy="837.98" r="9.9" fill="#fff"/><circle cx="900.5" cy="837.98" r="5.5" fill="#2ca02c"/>
<circle cx="904.5" cy="834.07" r="9.9" fill="#fff"/><circle cx="904.5" cy="834.07" r="5.5" fill="#2ca02c"/>
<circle cx="909.5" cy="837.98" r="9.9" fill="#fff"/><circle cx="909.5" cy="837.98" r="5.5" fill="#2ca02c"/>
<circle cx="913.5" cy="837.98" r="9.9" fill="#fff"/><circle cx="913.5" cy="837.98" r="5.5" fill="#2ca02c"/>
<circle cx="917.5" cy="837.98" r="9.9" fill="#fff"/><circle cx="917.5" cy="837.98" r="5.5" fill="#2ca02c"/>
<circle cx="921.5" cy="837.98" r="9.9" fill="#fff"/><circle cx="921.5" cy="837.98" r="5.5" fill="#2ca02c"/>
<circle cx="926.5" cy="837.98" r="9.9" fill="#fff"/><circle cx="926.5" cy="837.98" r="5.5" fill="#2ca02c"/>
<circle cx="930.5" cy="837.98" r="9.9" fill="#fff"/><circle cx="930.5" cy="837.98" r="5.5" fill="#2ca02c"/>
<circle cx="934.5" cy="837.98" r="9.9" fill="#fff"/><circle cx="934.5" cy="837.98" r="5.5" fill="#2ca02c"/>
<circle cx="939.5" cy="837.98" r="9.9" fill="#fff"/><circle cx="939.5" cy="837.98" r="5.5" fill="#2ca02c"/>
<circle cx="943.5" cy="837.98" r="9.9" fill="#fff"/><circle cx="943.5" cy="837.98" r="5.5" fill="#2ca02c"/>
<circle cx="947.5" cy="836.16" r="9.9" fill="#fff"/><circle cx="947.5" cy="836.16" r="5.5" fill="#2ca02c"/>
<circle cx="951.5" cy="837.98" r="9.9" fill="#fff"/><circle cx="951.5" cy="837.98" r="5.5" fill="#2ca02c"/>
<circle cx="956.5" cy="837.98" r="9.9" fill="#fff"/><circle cx="956.5" cy="837.98" r="5.5" fill="#2ca02c"/>
<circle cx="960.5" cy="837.98" r="9.9" fill="#fff"/><circle cx="960.5" cy="837.98" r="5.5" fill="#2ca02c"/>
<circle cx="964.5" cy="837.98" r="9.9" fill="#fff"/><circle cx="964.5" cy="837.98" r="5.5" fill="#2ca02c"/>
<circle cx="968.5" cy="837.98" r="9.9" fill="#fff"/><circle cx="968.5" cy="837.98" r="5.5" fill="#2ca02c"/>
<circle cx="973.5" cy="836.55" r="9.9" fill="#fff"/><circle cx="973.5" cy="836.55" r="5.5" fill="#2ca02c"/>
<circle cx="977.5" cy="837.98" r="9.9" fill="#fff"/><circle cx="977.5" cy="837.98" r="5.5" fill="#2ca02c"/>
<circle cx="981.5" cy="838.24" r="9.9" fill="#fff"/><circle cx="981.5" cy="838.24" r="5.5" fill="#2ca02c"/>
<circle cx="986.5" cy="836.94" r="9.9" fill="#fff"/><circle cx="986.5" cy="836.94" r="5.5" fill="#2ca02c"/>
<circle cx="990.5" cy="835.64" r="9.9" fill="#fff"/><circle cx="990.5" cy="835.64" r="5.5" fill="#2ca02c"/>
<circle cx="994.5" cy="837.46" r="9.9" fill="#fff"/><circle cx="994.5" cy="837.46" r="5.5" fill="#2ca02c"/>
<circle cx="998.5" cy="836.29" r="9.9" fill="#fff"/><circle cx="998.5" cy="836.29" r="5.5" fill="#2ca02c"/></g>
<text x="1087.2" y="80.3" text-anchor="end" xml:space="preserve">TCP</text>
<path d="M1097 74.5 H1146" stroke="#0060ad" stroke-width="2"/>
<circle cx="1121.5" cy="74.5" r="9.8" fill="#fff"/><circle cx="1121.5" cy="74.5" r="5.5" fill="#0060ad"/>
<text x="1087.2" y="99.3" text-anchor="end" xml:space="preserve">UDP</text>
<path d="M1097 93.5 H1146" stroke="#ff7f0e" stroke-width="2"/>
<circle cx="1121.5" cy="93.5" r="9.8" fill="#fff"/><circle cx="1121.5" cy="93.5" r="5.5" fill="#ff7f0e"/>
<text x="1087.2" y="118.3" text-anchor="end" xml:space="preserve">IP (!TCP  !UDP)</text>
<path d="M1097 112.5 H1146" stroke="#2ca02c" stroke-width="2"/>
<circle cx="1121.5" cy="112.5" r="9.8" fill="#fff"/><circle cx="1121.5" cy="112.5" r="5.5" fill="#2ca02c"/>
<path class="ax" d="M95.5 57.5 V838.5 H1165.5"/>
<text class="tk" x="98.1" y="864" text-anchor="middle">0</text>
<text class="tk" x="312.6" y="864" text-anchor="middle">50</text>
<text class="tk" x="526.9" y="864" text-anchor="middle">100</text>
<text class="tk" x="740.9" y="864" text-anchor="middle">150</text>
<text class="tk" x="954.9" y="864" text-anchor="middle">200</text>
<text class="tk" x="1168.9" y="864" text-anchor="middle">250</text>
<text class="tk" x="86.3" y="844.3" text-anchor="end">0</text>
<text class="tk" x="86.3" y="714.3" text-anchor="end">1000</text>
<text class="tk" x="86.3" y="584.3" text-anchor="end">2000</text>
<text class="tk" x="86.3" y="454.3" text-anchor="end">3000</text>
<text class="tk" x="86.3" y="323.3" text-anchor="end">4000</text>
<text class="tk" x="86.3" y="193.3" text-anchor="end">5000</text>
<text class="tk" x="86.3" y="63.3" text-anchor="end">6000</text>
<text x="630.5" y="891.5" text-anchor="middle">Time (s)</text>
<text transform="translate(23.5,448) rotate(-90)" text-anchor="middle">Packets</text>
<text x="-5" y="35" xml:space="preserve">stor0/searchlight/corpus/julyreruns/ipsec/experiment<tspan class="sub" dy="4.8">1</tspan><tspan dy="-4.8">/eth1</tspan><tspan class="sub" dy="4.8">i</tspan><tspan dy="-4.8">nterface/ptp/exp-b-fast-true/1658952665-c0.ipsecptp.hdumb.pharos-ipsecptp-b-cloud.fast</tspan></text>
</svg></body></html>
